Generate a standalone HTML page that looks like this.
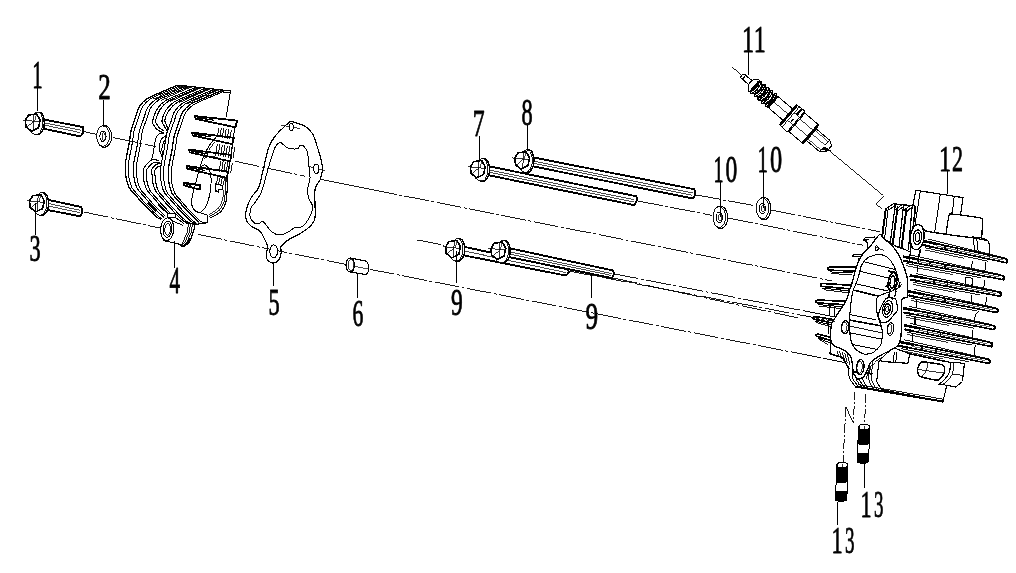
<!DOCTYPE html>
<html><head><meta charset="utf-8"><title>diagram</title>
<style>html,body{margin:0;padding:0;background:#fff;font-family:"Liberation Serif",serif}svg{display:block}</style></head><body>
<svg width="1016" height="573" viewBox="0 0 1016 573" style="filter:grayscale(1)" shape-rendering="crispEdges">
<rect width="1016" height="573" fill="#fff"/>
<line x1="83.00" y1="131.30" x2="96.00" y2="134.30" stroke="#000" stroke-width="0.9" />
<line x1="235.00" y1="161.25" x2="305.00" y2="176.25" stroke="#000" stroke-width="0.9" stroke-dasharray="25 2.5 3 2.5"/>
<line x1="320.25" y1="179.25" x2="372.00" y2="189.55" stroke="#000" stroke-width="0.9" />
<line x1="372.00" y1="189.55" x2="832.00" y2="281.00" stroke="#000" stroke-width="0.9" stroke-dasharray="25 2.5 3 2.5"/>
<line x1="83.75" y1="212.00" x2="160.00" y2="228.00" stroke="#000" stroke-width="0.9" stroke-dasharray="25 2.5 3 2.5"/>
<line x1="197.50" y1="234.50" x2="346.00" y2="264.50" stroke="#000" stroke-width="0.9" stroke-dasharray="25 2.5 3 2.5"/>
<line x1="369.75" y1="269.30" x2="845.00" y2="362.50" stroke="#000" stroke-width="0.9" stroke-dasharray="25 2.5 3 2.5"/>
<line x1="416.50" y1="240.00" x2="444.00" y2="245.50" stroke="#000" stroke-width="0.9" stroke-dasharray="25 2.5 3 2.5"/>
<line x1="613.75" y1="273.75" x2="836.50" y2="317.20" stroke="#000" stroke-width="0.9" stroke-dasharray="25 2.5 3 2.5"/>
<line x1="570.00" y1="271.25" x2="835.00" y2="321.60" stroke="#000" stroke-width="0.9" stroke-dasharray="25 2.5 3 2.5"/>
<line x1="612.50" y1="278.00" x2="800.00" y2="318.30" stroke="#000" stroke-width="0.9" stroke-dasharray="25 2.5 3 2.5"/>
<line x1="695.50" y1="195.00" x2="754.00" y2="205.50" stroke="#000" stroke-width="0.9" stroke-dasharray="25 2.5 3 2.5"/>
<line x1="770.75" y1="210.00" x2="879.50" y2="231.75" stroke="#000" stroke-width="0.9" stroke-dasharray="25 2.5 3 2.5"/>
<line x1="638.00" y1="201.00" x2="712.00" y2="215.30" stroke="#000" stroke-width="0.9" stroke-dasharray="25 2.5 3 2.5"/>
<line x1="728.00" y1="218.00" x2="864.50" y2="245.50" stroke="#000" stroke-width="0.9" stroke-dasharray="25 2.5 3 2.5"/>
<line x1="307.50" y1="166.25" x2="325.00" y2="171.25" stroke="#000" stroke-width="0.8" />
<line x1="281.00" y1="125.00" x2="300.00" y2="128.50" stroke="#000" stroke-width="0.8" />
<line x1="731.90" y1="66.90" x2="742.00" y2="75.50" stroke="#000" stroke-width="0.9" />
<line x1="830.40" y1="151.60" x2="883.25" y2="195.50" stroke="#000" stroke-width="0.9" />
<path d="M883.25,195.50 L875.75,203.50 L882.00,209.25" stroke="#000" stroke-width="0.9" fill="none" />
<line x1="865.60" y1="394.00" x2="864.70" y2="424.50" stroke="#000" stroke-width="0.9" stroke-dasharray="9 2 2 2"/>
<line x1="854.80" y1="391.50" x2="853.40" y2="423.20" stroke="#000" stroke-width="0.9" stroke-dasharray="9 2 2 2"/>
<line x1="853.40" y1="423.20" x2="845.90" y2="406.90" stroke="#000" stroke-width="0.9" />
<line x1="845.90" y1="406.90" x2="843.00" y2="462.80" stroke="#000" stroke-width="0.9" stroke-dasharray="10 2 2 2"/>
<path d="M291.25,121.25 C292.50,121.04 292.71,121.67 295.00,122.50 C297.29,123.33 302.08,124.38 305.00,126.25 C307.92,128.12 310.42,130.21 312.50,133.75 C314.58,137.29 316.04,143.12 317.50,147.50 C318.96,151.88 320.42,156.25 321.25,160.00 C322.08,163.75 322.71,166.67 322.50,170.00 C322.29,173.33 321.25,176.67 320.00,180.00 C318.75,183.33 315.83,183.75 315.00,190.00 C314.17,196.25 315.83,211.46 315.00,217.50 C314.17,223.54 312.50,223.54 310.00,226.25 C307.50,228.96 303.33,231.67 300.00,233.75 C296.67,235.83 293.12,236.67 290.00,238.75 C286.88,240.83 282.71,243.96 281.25,246.25 C279.79,248.54 281.67,250.21 281.25,252.50 C280.83,254.79 280.00,258.25 278.75,260.00 C277.50,261.75 275.42,262.79 273.75,263.00 C272.08,263.21 270.00,262.38 268.75,261.25 C267.50,260.12 266.46,258.75 266.25,256.25 C266.04,253.75 267.71,248.96 267.50,246.25 C267.29,243.54 266.25,242.50 265.00,240.00 C263.75,237.50 262.29,233.54 260.00,231.25 C257.71,228.96 253.54,228.12 251.25,226.25 C248.96,224.38 247.08,222.71 246.25,220.00 C245.42,217.29 245.42,213.75 246.25,210.00 C247.08,206.25 249.17,201.25 251.25,197.50 C253.33,193.75 256.88,191.67 258.75,187.50 C260.62,183.33 260.83,179.17 262.50,172.50 C264.17,165.83 266.67,153.54 268.75,147.50 C270.83,141.46 271.88,140.21 275.00,136.25 C278.12,132.29 284.79,126.25 287.50,123.75 C290.21,121.25 290.00,121.46 291.25,121.25Z" stroke="#000" stroke-width="1.2" fill="none" />
<path d="M280.00,142.50 C281.46,142.08 282.50,144.08 283.75,145.00 C285.00,145.92 285.21,147.38 287.50,148.00 C289.79,148.62 295.42,149.17 297.50,148.75 C299.58,148.33 298.96,145.92 300.00,145.50 C301.04,145.08 302.50,145.08 303.75,146.25 C305.00,147.42 306.67,149.38 307.50,152.50 C308.33,155.62 308.33,160.75 308.75,165.00 C309.17,169.25 310.21,173.83 310.00,178.00 C309.79,182.17 307.71,186.67 307.50,190.00 C307.29,193.33 307.92,195.33 308.75,198.00 C309.58,200.67 312.08,203.38 312.50,206.00 C312.92,208.62 312.29,211.00 311.25,213.75 C310.21,216.50 307.92,220.29 306.25,222.50 C304.58,224.71 303.12,226.17 301.25,227.00 C299.38,227.83 297.29,226.58 295.00,227.50 C292.71,228.42 290.21,231.25 287.50,232.50 C284.79,233.75 281.46,235.21 278.75,235.00 C276.04,234.79 273.33,232.92 271.25,231.25 C269.17,229.58 267.71,226.67 266.25,225.00 C264.79,223.33 263.75,221.46 262.50,221.25 C261.25,221.04 260.21,223.54 258.75,223.75 C257.29,223.96 255.21,223.75 253.75,222.50 C252.29,221.25 250.42,218.75 250.00,216.25 C249.58,213.75 250.42,209.79 251.25,207.50 C252.08,205.21 253.33,205.00 255.00,202.50 C256.67,200.00 259.58,196.25 261.25,192.50 C262.92,188.75 263.54,185.00 265.00,180.00 C266.46,175.00 268.33,167.92 270.00,162.50 C271.67,157.08 273.33,150.83 275.00,147.50 C276.67,144.17 278.54,142.92 280.00,142.50Z" stroke="#000" stroke-width="1.0" fill="none" />
<ellipse cx="291.25" cy="127.00" rx="2.00" ry="3.60" stroke="#000" stroke-width="1.0" fill="#fff"  />
<ellipse cx="316.25" cy="168.75" rx="2.60" ry="4.60" stroke="#000" stroke-width="1.0" fill="#fff"  />
<ellipse cx="273.75" cy="251.25" rx="3.90" ry="6.40" stroke="#000" stroke-width="1.0" fill="#fff"  />
<path d="M177.80,85.10 L165.00,90.50 L147.70,98.30 L139.50,106.40 L135.80,116.50 L131.20,130.00 L129.30,142.60 L125.60,162.00 L125.40,171.00 L126.30,179.30 L129.20,187.70 L134.20,193.60 L138.00,198.00 L143.10,203.80 L155.70,216.40 L161.30,219.50 L165.00,243.00 L183.00,247.00 L194.00,236.00 L196.00,224.00 L209.00,222.00 L222.00,212.00 L228.00,198.00 L236.00,128.00 L237.00,120.00 L230.50,91.00Z" fill="#fff" stroke="none"/>
<clipPath id="c4"><path d="M100,60 L260,60 L260,222 L199.7,222 L194.6,224.8 L184.6,223.2 L176,217.7 L167.6,214 L161,220.5 L100,220.5 Z"/></clipPath><g clip-path="url(#c4)">
<path d="M177.80,85.10 C175.67,86.00 170.02,88.30 165.00,90.50 C159.98,92.70 151.95,95.65 147.70,98.30 C143.45,100.95 141.48,103.37 139.50,106.40 C137.52,109.43 137.18,112.57 135.80,116.50 C134.42,120.43 132.28,125.65 131.20,130.00 C130.12,134.35 130.23,137.27 129.30,142.60 C128.37,147.93 126.25,157.27 125.60,162.00 C124.95,166.73 125.28,168.12 125.40,171.00 C125.52,173.88 125.67,176.52 126.30,179.30 C126.93,182.08 127.88,185.32 129.20,187.70 C130.52,190.08 132.73,191.88 134.20,193.60 C135.67,195.32 136.52,196.30 138.00,198.00 C139.48,199.70 140.15,200.73 143.10,203.80 C146.05,206.87 152.67,213.78 155.70,216.40 C158.73,219.02 160.37,218.98 161.30,219.50" stroke="#000" stroke-width="1.3" fill="none" />
<path d="M180.80,85.50 C178.67,86.40 173.02,88.70 168.00,90.90 C162.98,93.10 154.95,96.05 150.70,98.70 C146.45,101.35 144.48,103.77 142.50,106.80 C140.52,109.83 140.18,112.97 138.80,116.90 C137.42,120.83 135.28,126.05 134.20,130.40 C133.12,134.75 133.23,137.67 132.30,143.00 C131.37,148.33 129.25,157.67 128.60,162.40 C127.95,167.13 128.28,168.52 128.40,171.40 C128.52,174.28 128.67,176.92 129.30,179.70 C129.93,182.48 130.88,185.72 132.20,188.10 C133.52,190.48 135.73,192.28 137.20,194.00 C138.67,195.72 139.52,196.70 141.00,198.40 C142.48,200.10 143.15,201.13 146.10,204.20 C149.05,207.27 155.67,214.18 158.70,216.80 C161.73,219.42 163.37,219.38 164.30,219.90" stroke="#000" stroke-width="1.0" fill="none" />
<path d="M186.00,86.20 C183.87,87.10 178.22,89.40 173.20,91.60 C168.18,93.80 160.15,96.75 155.90,99.40 C151.65,102.05 149.68,104.47 147.70,107.50 C145.72,110.53 145.38,113.67 144.00,117.60 C142.62,121.53 140.48,126.75 139.40,131.10 C138.32,135.45 138.43,138.37 137.50,143.70 C136.57,149.03 134.45,158.37 133.80,163.10 C133.15,167.83 133.48,169.22 133.60,172.10 C133.72,174.98 133.87,177.62 134.50,180.40 C135.13,183.18 136.08,186.42 137.40,188.80 C138.72,191.18 140.93,192.98 142.40,194.70 C143.87,196.42 144.72,197.40 146.20,199.10 C147.68,200.80 148.35,201.83 151.30,204.90 C154.25,207.97 160.87,214.88 163.90,217.50 C166.93,220.12 168.57,220.08 169.50,220.60" stroke="#000" stroke-width="1.1" fill="none" />
<path d="M189.00,86.60 C186.87,87.50 181.22,89.80 176.20,92.00 C171.18,94.20 163.15,97.15 158.90,99.80 C154.65,102.45 152.68,104.87 150.70,107.90 C148.72,110.93 148.38,114.07 147.00,118.00 C145.62,121.93 143.48,127.15 142.40,131.50 C141.32,135.85 141.43,138.77 140.50,144.10 C139.57,149.43 137.45,158.77 136.80,163.50 C136.15,168.23 136.48,169.62 136.60,172.50 C136.72,175.38 136.87,178.02 137.50,180.80 C138.13,183.58 139.08,186.82 140.40,189.20 C141.72,191.58 143.93,193.38 145.40,195.10 C146.87,196.82 147.72,197.80 149.20,199.50 C150.68,201.20 151.35,202.23 154.30,205.30 C157.25,208.37 163.87,215.28 166.90,217.90 C169.93,220.52 171.57,220.48 172.50,221.00" stroke="#000" stroke-width="1.0" fill="none" />
<path d="M195.60,87.50 C193.89,88.22 186.81,91.14 182.80,92.90 C178.79,94.66 168.90,98.58 165.50,100.70 C162.10,102.82 159.02,106.00 157.30,108.80 C155.58,111.60 152.67,118.98 152.60,121.70 C152.53,124.42 155.35,127.69 156.80,129.20 C158.25,130.71 162.61,132.49 163.50,133.00" stroke="#000" stroke-width="1.1" fill="none" />
<path d="M198.60,87.90 C196.89,88.62 189.81,91.54 185.80,93.30 C181.79,95.06 171.90,98.98 168.50,101.10 C165.10,103.22 162.02,106.56 160.30,109.20 C158.58,111.84 155.73,118.45 155.60,120.90 C155.47,123.35 158.13,126.21 159.30,127.60 C160.47,128.99 163.72,130.81 164.40,131.30" stroke="#000" stroke-width="1.1" fill="none" />
<path d="M159.40,160.50 C158.33,160.43 153.47,159.00 151.40,160.00 C149.33,161.00 144.99,166.21 143.90,168.00 C142.81,169.79 143.17,171.57 143.20,173.40 C143.23,175.23 143.59,179.47 144.10,181.70 C144.61,183.93 145.95,188.19 147.00,190.10 C148.05,192.01 150.83,194.63 152.00,196.00 C153.17,197.37 154.61,199.04 155.80,200.40 C156.99,201.76 158.54,203.75 160.90,206.20 C163.26,208.65 171.07,216.71 173.50,218.80 C175.93,220.89 178.35,221.49 179.10,221.90" stroke="#000" stroke-width="1.1" fill="none" />
<path d="M160.20,162.60 C159.31,162.60 155.31,161.65 153.50,162.60 C151.69,163.55 147.57,168.21 146.60,169.70 C145.63,171.19 146.13,172.15 146.20,173.80 C146.27,175.45 146.59,179.87 147.10,182.10 C147.61,184.33 148.95,188.59 150.00,190.50 C151.05,192.41 153.83,195.03 155.00,196.40 C156.17,197.77 157.61,199.44 158.80,200.80 C159.99,202.16 161.54,204.15 163.90,206.60 C166.26,209.05 174.07,217.11 176.50,219.20 C178.93,221.29 181.35,221.89 182.10,222.30" stroke="#000" stroke-width="1.1" fill="none" />
<path d="M163.50,133.00 C162.83,133.17 159.55,133.46 158.50,134.30 C157.45,135.14 156.16,137.74 155.60,139.30 C155.04,140.86 154.65,144.04 154.30,146.00 C153.95,147.96 153.36,152.13 153.00,154.00 C152.64,155.87 151.79,159.20 151.60,160.00" stroke="#000" stroke-width="1.0" fill="none" />
<path d="M166.00,135.10 C165.17,135.93 162.12,137.87 161.00,140.10 C159.88,142.33 159.15,145.77 159.30,148.50 C159.45,151.23 161.47,155.17 161.90,156.50" stroke="#000" stroke-width="1.1" fill="none" />
<path d="M166.90,136.80 C166.33,137.77 164.33,140.65 163.50,142.60 C162.67,144.55 162.03,146.43 161.90,148.50 C161.77,150.57 162.57,153.92 162.70,155.00" stroke="#000" stroke-width="1.0" fill="none" />
<path d="M204.40,88.70 C202.69,89.42 195.61,92.34 191.60,94.10 C187.59,95.86 177.70,99.78 174.30,101.90 C170.90,104.02 167.75,107.47 166.10,110.00 C164.45,112.53 162.02,118.55 161.90,120.90 C161.78,123.25 164.53,126.27 165.20,127.60 C165.87,128.93 166.67,130.46 166.90,130.90" stroke="#000" stroke-width="1.1" fill="none" />
<path d="M207.40,89.10 C205.69,89.82 198.61,92.74 194.60,94.50 C190.59,96.26 180.70,100.18 177.30,102.30 C173.90,104.42 170.77,108.04 169.10,110.40 C167.43,112.76 165.09,117.93 164.80,120.00 C164.51,122.07 166.50,124.63 166.90,125.90 C167.30,127.17 167.68,129.02 167.80,129.50" stroke="#000" stroke-width="1.1" fill="none" />
<path d="M161.00,163.80 C160.45,163.85 158.01,163.64 156.90,164.20 C155.79,164.76 153.41,167.09 152.70,168.00 C151.99,168.91 151.69,170.12 151.60,171.00 C151.51,171.88 151.83,173.01 152.00,174.60 C152.17,176.19 152.39,180.67 152.90,182.90 C153.41,185.13 154.75,189.39 155.80,191.30 C156.85,193.21 159.63,195.83 160.80,197.20 C161.97,198.57 163.41,200.24 164.60,201.60 C165.79,202.96 167.34,204.95 169.70,207.40 C172.06,209.85 179.87,217.91 182.30,220.00 C184.73,222.09 187.15,222.69 187.90,223.10" stroke="#000" stroke-width="1.1" fill="none" />
<path d="M161.00,165.90 C160.56,166.02 158.47,166.29 157.70,166.80 C156.93,167.31 155.67,169.01 155.20,169.70 C154.73,170.39 154.23,171.29 154.20,172.00 C154.17,172.71 154.77,173.49 155.00,175.00 C155.23,176.51 155.39,181.07 155.90,183.30 C156.41,185.53 157.75,189.79 158.80,191.70 C159.85,193.61 162.63,196.23 163.80,197.60 C164.97,198.97 166.41,200.64 167.60,202.00 C168.79,203.36 170.34,205.35 172.70,207.80 C175.06,210.25 182.87,218.31 185.30,220.40 C187.73,222.49 190.15,223.09 190.90,223.50" stroke="#000" stroke-width="1.1" fill="none" />
<path d="M213.00,89.90 C210.87,90.80 205.22,93.10 200.20,95.30 C195.18,97.50 187.15,100.45 182.90,103.10 C178.65,105.75 176.68,108.17 174.70,111.20 C172.72,114.23 172.38,117.37 171.00,121.30 C169.62,125.23 167.48,130.45 166.40,134.80 C165.32,139.15 165.43,142.07 164.50,147.40 C163.57,152.73 161.45,162.07 160.80,166.80 C160.15,171.53 160.48,172.92 160.60,175.80 C160.72,178.68 160.87,181.32 161.50,184.10 C162.13,186.88 163.08,190.12 164.40,192.50 C165.72,194.88 167.93,196.68 169.40,198.40 C170.87,200.12 171.72,201.10 173.20,202.80 C174.68,204.50 175.35,205.53 178.30,208.60 C181.25,211.67 187.87,218.58 190.90,221.20 C193.93,223.82 195.57,223.78 196.50,224.30" stroke="#000" stroke-width="1.1" fill="none" />
<path d="M216.00,90.30 C213.87,91.20 208.22,93.50 203.20,95.70 C198.18,97.90 190.15,100.85 185.90,103.50 C181.65,106.15 179.68,108.57 177.70,111.60 C175.72,114.63 175.38,117.77 174.00,121.70 C172.62,125.63 170.48,130.85 169.40,135.20 C168.32,139.55 168.43,142.47 167.50,147.80 C166.57,153.13 164.45,162.47 163.80,167.20 C163.15,171.93 163.48,173.32 163.60,176.20 C163.72,179.08 163.87,181.72 164.50,184.50 C165.13,187.28 166.08,190.52 167.40,192.90 C168.72,195.28 170.93,197.08 172.40,198.80 C173.87,200.52 174.72,201.50 176.20,203.20 C177.68,204.90 178.35,205.93 181.30,209.00 C184.25,212.07 190.87,218.98 193.90,221.60 C196.93,224.22 198.57,224.18 199.50,224.70" stroke="#000" stroke-width="1.0" fill="none" />
<path d="M220.80,91.00 C218.67,91.90 213.02,94.20 208.00,96.40 C202.98,98.60 194.95,101.55 190.70,104.20 C186.45,106.85 184.48,109.27 182.50,112.30 C180.52,115.33 180.18,118.47 178.80,122.40 C177.42,126.33 175.28,131.55 174.20,135.90 C173.12,140.25 173.23,143.17 172.30,148.50 C171.37,153.83 169.25,163.17 168.60,167.90 C167.95,172.63 168.28,174.02 168.40,176.90 C168.52,179.78 168.67,182.42 169.30,185.20 C169.93,187.98 170.88,191.22 172.20,193.60 C173.52,195.98 175.73,197.78 177.20,199.50 C178.67,201.22 179.52,202.20 181.00,203.90 C182.48,205.60 183.15,206.63 186.10,209.70 C189.05,212.77 195.67,219.68 198.70,222.30 C201.73,224.92 203.37,224.88 204.30,225.40" stroke="#000" stroke-width="1.3" fill="none" />
<path d="M223.80,91.40 C221.67,92.30 216.02,94.60 211.00,96.80 C205.98,99.00 197.95,101.95 193.70,104.60 C189.45,107.25 187.48,109.67 185.50,112.70 C183.52,115.73 183.18,118.87 181.80,122.80 C180.42,126.73 178.28,131.95 177.20,136.30 C176.12,140.65 176.23,143.57 175.30,148.90 C174.37,154.23 172.25,163.57 171.60,168.30 C170.95,173.03 171.28,174.42 171.40,177.30 C171.52,180.18 171.67,182.82 172.30,185.60 C172.93,188.38 173.88,191.62 175.20,194.00 C176.52,196.38 178.73,198.18 180.20,199.90 C181.67,201.62 182.52,202.60 184.00,204.30 C185.48,206.00 186.15,207.03 189.10,210.10 C192.05,213.17 198.67,220.08 201.70,222.70 C204.73,225.32 206.37,225.28 207.30,225.80" stroke="#000" stroke-width="1.0" fill="none" />
</g>
<path d="M183.40,85.87 C181.27,86.77 175.62,89.07 170.60,91.27 C165.58,93.47 156.18,97.77 153.30,99.07" stroke="#000" stroke-width="0.9" fill="none" />
<path d="M191.40,86.96 C189.27,87.86 183.62,90.16 178.60,92.36 C173.58,94.56 164.18,98.86 161.30,100.16" stroke="#000" stroke-width="0.9" fill="none" />
<path d="M200.40,88.20 C198.27,89.10 192.62,91.40 187.60,93.60 C182.58,95.80 173.18,100.10 170.30,101.40" stroke="#000" stroke-width="0.9" fill="none" />
<path d="M209.20,89.40 C207.07,90.30 201.42,92.60 196.40,94.80 C191.38,97.00 181.98,101.30 179.10,102.60" stroke="#000" stroke-width="0.9" fill="none" />
<path d="M217.40,90.53 C215.27,91.43 209.62,93.73 204.60,95.93 C199.58,98.13 190.18,102.43 187.30,103.73" stroke="#000" stroke-width="0.9" fill="none" />
<line x1="177.80" y1="85.10" x2="230.30" y2="90.90" stroke="#000" stroke-width="1.2" />
<line x1="180.00" y1="86.60" x2="224.00" y2="91.60" stroke="#000" stroke-width="0.8" />
<path d="M224.00,90.20 L230.40,90.90 L230.20,93.00 L223.50,92.40" stroke="#000" stroke-width="1.0" fill="none" />
<line x1="230.30" y1="92.50" x2="226.00" y2="117.50" stroke="#000" stroke-width="1.0" />
<path d="M195.1,116.1 L237.0,120.6 L235.6,127.3 L195.6,118.9 Z" stroke="#000" stroke-width="1.8" fill="#fff" stroke-linejoin="round"/>
<line x1="197.10" y1="117.70" x2="213.95" y2="120.18" stroke="#000" stroke-width="1.2" />
<path d="M192.1,132.6 L233.8,137.8 L232.4,144.2 L192.6,135.4 Z" stroke="#000" stroke-width="1.8" fill="#fff" stroke-linejoin="round"/>
<line x1="194.10" y1="134.20" x2="210.87" y2="136.93" stroke="#000" stroke-width="1.2" />
<path d="M189.2,149.6 L231.3,155.0 L230.2,161.4 L189.7,152.4 Z" stroke="#000" stroke-width="1.8" fill="#fff" stroke-linejoin="round"/>
<line x1="191.20" y1="151.20" x2="208.15" y2="154.02" stroke="#000" stroke-width="1.2" />
<path d="M186.6,166.0 L228.0,171.6 L226.8,177.8 L187.1,168.8 Z" stroke="#000" stroke-width="1.8" fill="#fff" stroke-linejoin="round"/>
<line x1="188.60" y1="167.60" x2="205.23" y2="170.47" stroke="#000" stroke-width="1.2" />
<path d="M183.6,182.6 L200.5,185.4 L199.6,189.6 L184.1,185.4 Z" stroke="#000" stroke-width="1.8" fill="#fff" stroke-linejoin="round"/>
<line x1="185.60" y1="184.20" x2="191.20" y2="185.35" stroke="#000" stroke-width="1.2" />
<line x1="218.80" y1="127.50" x2="217.20" y2="137.00" stroke="#000" stroke-width="0.9" />
<line x1="221.30" y1="127.90" x2="219.70" y2="137.40" stroke="#000" stroke-width="0.9" />
<line x1="223.80" y1="128.30" x2="222.20" y2="137.80" stroke="#000" stroke-width="0.9" />
<line x1="226.30" y1="128.70" x2="224.70" y2="138.20" stroke="#000" stroke-width="0.9" />
<line x1="228.80" y1="129.10" x2="227.20" y2="138.60" stroke="#000" stroke-width="0.9" />
<line x1="231.30" y1="129.50" x2="229.70" y2="139.00" stroke="#000" stroke-width="0.9" />
<line x1="217.30" y1="144.00" x2="215.70" y2="155.50" stroke="#000" stroke-width="0.9" />
<line x1="219.80" y1="144.40" x2="218.20" y2="155.90" stroke="#000" stroke-width="0.9" />
<line x1="222.30" y1="144.80" x2="220.70" y2="156.30" stroke="#000" stroke-width="0.9" />
<line x1="224.80" y1="145.20" x2="223.20" y2="156.70" stroke="#000" stroke-width="0.9" />
<line x1="227.30" y1="145.60" x2="225.70" y2="157.10" stroke="#000" stroke-width="0.9" />
<line x1="229.80" y1="146.00" x2="228.20" y2="157.50" stroke="#000" stroke-width="0.9" />
<line x1="232.30" y1="146.40" x2="230.70" y2="157.90" stroke="#000" stroke-width="0.9" />
<line x1="234.80" y1="146.80" x2="233.20" y2="158.30" stroke="#000" stroke-width="0.9" />
<line x1="220.80" y1="161.00" x2="219.20" y2="171.50" stroke="#000" stroke-width="0.9" />
<line x1="223.10" y1="161.37" x2="221.50" y2="171.87" stroke="#000" stroke-width="0.9" />
<line x1="225.40" y1="161.74" x2="223.80" y2="172.24" stroke="#000" stroke-width="0.9" />
<line x1="227.70" y1="162.10" x2="226.10" y2="172.60" stroke="#000" stroke-width="0.9" />
<line x1="230.00" y1="162.47" x2="228.40" y2="172.97" stroke="#000" stroke-width="0.9" />
<line x1="232.30" y1="162.84" x2="230.70" y2="173.34" stroke="#000" stroke-width="0.9" />
<line x1="217.80" y1="177.00" x2="216.20" y2="184.50" stroke="#000" stroke-width="0.9" />
<line x1="220.05" y1="177.36" x2="218.45" y2="184.86" stroke="#000" stroke-width="0.9" />
<line x1="222.30" y1="177.72" x2="220.70" y2="185.22" stroke="#000" stroke-width="0.9" />
<line x1="224.55" y1="178.08" x2="222.95" y2="185.58" stroke="#000" stroke-width="0.9" />
<line x1="226.80" y1="178.44" x2="225.20" y2="185.94" stroke="#000" stroke-width="0.9" />
<line x1="234.50" y1="127.00" x2="233.60" y2="137.50" stroke="#000" stroke-width="1.0" />
<line x1="232.30" y1="144.00" x2="231.20" y2="155.00" stroke="#000" stroke-width="1.0" />
<line x1="230.00" y1="161.50" x2="228.00" y2="171.50" stroke="#000" stroke-width="1.0" />
<path d="M227.00,178.00 C227.05,179.17 227.47,181.12 227.30,185.00 C227.13,188.88 227.05,196.90 226.00,201.30 C224.95,205.70 223.72,208.57 221.00,211.40 C218.28,214.23 211.58,217.15 209.70,218.30" stroke="#000" stroke-width="1.1" fill="none" />
<path d="M225.20,178.00 C225.25,179.33 225.67,182.25 225.50,186.00 C225.33,189.75 225.20,196.50 224.20,200.50 C223.20,204.50 222.03,207.32 219.50,210.00 C216.97,212.68 210.75,215.50 209.00,216.60" stroke="#000" stroke-width="0.9" fill="none" />
<path d="M223.40,190.00 C223.25,191.67 223.40,196.92 222.50,200.00 C221.60,203.08 220.25,206.03 218.00,208.50 C215.75,210.97 210.50,213.75 209.00,214.80" stroke="#000" stroke-width="0.8" fill="none" />
<path d="M215.50,184.00 L222.50,185.50 L222.00,189.50 L219.00,189.50 L218.50,192.00 L216.00,191.50Z" stroke="#000" stroke-width="1.2" fill="#fff" />
<path d="M216.00,137.50 C214.83,138.92 211.17,142.58 209.00,146.00 C206.83,149.42 204.75,153.67 203.00,158.00 C201.25,162.33 199.75,167.67 198.50,172.00 C197.25,176.33 196.35,180.78 195.50,184.00 C194.65,187.22 194.07,188.00 193.40,191.30 C192.73,194.60 191.08,200.45 191.50,203.80 C191.92,207.15 194.33,210.03 195.90,211.40 C197.47,212.77 199.02,213.27 200.90,212.00 C202.78,210.73 205.52,208.30 207.20,203.80 C208.88,199.30 210.53,190.30 211.00,185.00 C211.47,179.70 211.00,175.33 210.00,172.00 C209.00,168.67 206.83,165.67 205.00,165.00 C203.17,164.33 200.00,167.50 199.00,168.00" stroke="#000" stroke-width="1.0" fill="none" />
<path d="M203.50,159.00 C204.25,158.58 206.25,156.87 208.00,156.50 C209.75,156.13 212.17,156.47 214.00,156.80 C215.83,157.13 218.17,158.22 219.00,158.50" stroke="#000" stroke-width="0.9" fill="none" />
<path d="M198.00,172.50 C198.50,171.83 199.75,169.33 201.00,168.50 C202.25,167.67 204.75,167.67 205.50,167.50" stroke="#000" stroke-width="0.9" fill="none" />
<line x1="214.30" y1="141.50" x2="208.00" y2="150.00" stroke="#000" stroke-width="0.9" />
<path d="M196.00,211.50 L207.80,215.20 L207.80,222.60 L199.70,221.80" stroke="#000" stroke-width="1.0" fill="none" />
<path d="M167.60,213.30 L175.80,214.00 L175.80,217.70 L167.60,217.00Z" stroke="#000" stroke-width="1.0" fill="#fff" />
<path d="M175.80,217.70 L184.60,224.00" stroke="#000" stroke-width="1.0" fill="none" />
<path d="M184.60,222.70 L194.60,224.60 L207.80,222.60" stroke="#000" stroke-width="1.1" fill="none" />
<line x1="147.50" y1="203.00" x2="156.00" y2="211.50" stroke="#000" stroke-width="2.0" />
<line x1="158.50" y1="204.50" x2="164.00" y2="210.50" stroke="#000" stroke-width="1.8" />
<path d="M173.50,221.50 L183.50,225.50" stroke="#000" stroke-width="1.0" fill="none" />
<path d="M163.50,240.50 L179.60,244.20" stroke="#000" stroke-width="1.1" fill="none" />
<path d="M184.60,222.70 C185.93,222.95 193.43,223.43 194.60,224.60 C195.77,225.77 194.07,229.25 193.40,231.50 C192.73,233.75 190.95,239.49 189.60,241.50 C188.25,243.51 184.63,246.24 183.30,246.60 C181.97,246.96 180.09,244.52 179.60,244.20" stroke="#000" stroke-width="1.2" fill="#fff" />
<path d="M192.40,223.97 C192.24,224.97 191.87,229.23 191.20,231.50 C190.53,233.77 188.47,239.12 187.40,241.00 C186.33,242.88 183.74,244.99 183.18,245.60" stroke="#000" stroke-width="0.9" fill="none" />
<path d="M190.40,223.67 C190.24,224.71 189.87,229.19 189.20,231.50 C188.53,233.81 186.36,239.12 185.40,241.00 C184.44,242.88 182.44,244.99 181.98,245.60" stroke="#000" stroke-width="0.9" fill="none" />
<path d="M188.40,223.37 C188.24,224.45 187.87,229.15 187.20,231.50 C186.53,233.85 184.26,239.12 183.40,241.00 C182.54,242.88 181.13,244.99 180.78,245.60" stroke="#000" stroke-width="0.9" fill="none" />
<path d="M190.00,238.00 C189.58,238.83 188.57,241.60 187.50,243.00 C186.43,244.40 184.25,245.83 183.60,246.40" stroke="#000" stroke-width="2.2" fill="none" />
<ellipse cx="167.20" cy="229.20" rx="6.60" ry="11.40" stroke="#000" stroke-width="1.2" fill="#fff" transform="rotate(4 167.20 229.20)" />
<ellipse cx="167.40" cy="229.20" rx="4.30" ry="8.20" stroke="#000" stroke-width="1.0" fill="none" transform="rotate(4 167.40 229.20)" />
<ellipse cx="167.60" cy="229.20" rx="2.80" ry="6.00" stroke="#000" stroke-width="0.9" fill="none" transform="rotate(4 167.60 229.20)" />
<line x1="112.50" y1="137.60" x2="156.00" y2="146.60" stroke="#000" stroke-width="0.9" stroke-dasharray="25 2.5 3 2.5"/>
<path d="M882.00,237.80 L885.80,208.90 L893.30,203.80 L912.80,205.70 L915.90,190.30 L963.00,197.60 L961.00,214.00 L982.50,218.30 L981.20,239.00 L989.50,245.00 L989.50,256.00 L1006.50,259.00 L1006.50,263.00 L989.00,362.00 L975.00,363.00 L964.40,363.30 L962.50,381.50 L955.60,387.10 L946.80,385.30 L943.00,401.60 L855.30,386.50 L849.00,377.70 L849.00,368.90 L842.70,357.60 L830.80,353.80 L832.00,322.70 L849.00,297.00 L856.50,266.50 L862.80,253.90 L863.40,240.00 L875.40,237.00Z" fill="#fff" stroke="none"/>
<line x1="973.20" y1="238.80" x2="975.00" y2="252.00" stroke="#000" stroke-width="1.0" />
<line x1="976.80" y1="238.80" x2="978.30" y2="252.50" stroke="#000" stroke-width="1.0" />
<line x1="972.30" y1="260.50" x2="971.50" y2="270.00" stroke="#000" stroke-width="1.0" />
<line x1="986.00" y1="262.50" x2="984.80" y2="272.00" stroke="#000" stroke-width="1.0" />
<line x1="972.80" y1="278.50" x2="972.00" y2="289.00" stroke="#000" stroke-width="1.0" />
<line x1="984.50" y1="280.50" x2="983.50" y2="291.00" stroke="#000" stroke-width="1.0" />
<line x1="971.50" y1="295.00" x2="970.80" y2="305.50" stroke="#000" stroke-width="1.0" />
<line x1="986.50" y1="297.00" x2="985.50" y2="308.00" stroke="#000" stroke-width="1.0" />
<line x1="973.00" y1="330.00" x2="972.00" y2="340.00" stroke="#000" stroke-width="1.0" />
<path d="M966.00,277.50 C966.65,276.80 971.45,277.60 972.00,278.50 C972.55,279.40 972.15,285.80 971.50,286.50 C970.85,287.20 966.05,286.40 965.50,285.50 C964.95,284.60 965.35,278.20 966.00,277.50Z" stroke="#000" stroke-width="1.1" fill="#fff" />
<line x1="920.50" y1="249.00" x2="919.30" y2="257.00" stroke="#000" stroke-width="1.1" />
<line x1="917.50" y1="266.50" x2="918.00" y2="271.50" stroke="#000" stroke-width="1.0" />
<line x1="916.50" y1="300.00" x2="916.50" y2="309.50" stroke="#000" stroke-width="1.0" />
<line x1="915.00" y1="317.00" x2="915.00" y2="326.00" stroke="#000" stroke-width="1.2" />
<line x1="913.00" y1="333.00" x2="912.00" y2="343.00" stroke="#000" stroke-width="1.0" />
<path d="M979.00,311.00 C978.42,311.67 976.22,313.50 975.50,315.00 C974.78,316.50 974.83,319.17 974.70,320.00" stroke="#000" stroke-width="1.0" fill="none" />
<path d="M975.70,345.00 C975.45,345.83 974.38,348.25 974.20,350.00 C974.02,351.75 974.53,354.58 974.60,355.50" stroke="#000" stroke-width="1.0" fill="none" />
<path d="M922.3,238.0 L1006.5,258.4 L1006.5,263.2 L922.3,245.2 Z" fill="#fff" stroke="none"/>
<line x1="928.30" y1="239.10" x2="1004.50" y2="257.90" stroke="#000" stroke-width="0.9" />
<line x1="922.30" y1="240.60" x2="1006.50" y2="258.80" stroke="#000" stroke-width="1.6" />
<line x1="922.30" y1="244.90" x2="1006.50" y2="262.80" stroke="#000" stroke-width="1.6" />
<line x1="936.30" y1="245.93" x2="1002.50" y2="259.94" stroke="#000" stroke-width="0.6" />
<line x1="925.30" y1="247.85" x2="987.98" y2="261.20" stroke="#000" stroke-width="0.9" />
<line x1="925.30" y1="250.05" x2="964.40" y2="258.30" stroke="#000" stroke-width="0.8" />
<path d="M1005.7,258.5 Q1009.1,260.8 1005.7,263.1" stroke="#000" stroke-width="2.4" fill="none" />
<line x1="922.30" y1="240.80" x2="938.30" y2="244.26" stroke="#000" stroke-width="2.6" />
<line x1="923.30" y1="245.00" x2="932.30" y2="247.16" stroke="#000" stroke-width="2.2" />
<line x1="945.03" y1="245.51" x2="944.73" y2="249.51" stroke="#000" stroke-width="1.6" />
<line x1="957.66" y1="248.24" x2="957.36" y2="252.24" stroke="#000" stroke-width="1.6" />
<path d="M902.8,253.7 L1003.3,275.3 L1003.3,280.1 L902.8,260.9 Z" fill="#fff" stroke="none"/>
<line x1="908.80" y1="254.66" x2="1001.30" y2="274.80" stroke="#000" stroke-width="0.9" />
<line x1="902.80" y1="256.30" x2="1003.30" y2="275.70" stroke="#000" stroke-width="1.6" />
<line x1="902.80" y1="260.60" x2="1003.30" y2="279.70" stroke="#000" stroke-width="1.6" />
<line x1="916.80" y1="261.30" x2="999.30" y2="276.93" stroke="#000" stroke-width="0.6" />
<line x1="905.80" y1="263.48" x2="981.19" y2="277.83" stroke="#000" stroke-width="0.9" />
<line x1="905.80" y1="265.68" x2="953.05" y2="274.60" stroke="#000" stroke-width="0.8" />
<path d="M1002.5,275.4 Q1005.9,277.7 1002.5,280.0" stroke="#000" stroke-width="2.4" fill="none" />
<line x1="902.80" y1="256.50" x2="918.80" y2="259.59" stroke="#000" stroke-width="2.6" />
<line x1="903.80" y1="260.70" x2="912.80" y2="262.63" stroke="#000" stroke-width="2.2" />
<line x1="929.93" y1="261.54" x2="929.63" y2="265.54" stroke="#000" stroke-width="1.6" />
<line x1="945.01" y1="264.45" x2="944.71" y2="268.45" stroke="#000" stroke-width="1.6" />
<path d="M909.7,272.5 L1000.2,291.9 L1000.2,296.7 L909.7,279.7 Z" fill="#fff" stroke="none"/>
<line x1="915.70" y1="273.44" x2="998.20" y2="291.40" stroke="#000" stroke-width="0.9" />
<line x1="909.70" y1="275.10" x2="1000.20" y2="292.30" stroke="#000" stroke-width="1.6" />
<line x1="909.70" y1="279.40" x2="1000.20" y2="296.30" stroke="#000" stroke-width="1.6" />
<line x1="923.70" y1="280.06" x2="996.20" y2="293.54" stroke="#000" stroke-width="0.6" />
<line x1="912.70" y1="282.27" x2="980.29" y2="294.92" stroke="#000" stroke-width="0.9" />
<line x1="912.70" y1="284.47" x2="954.95" y2="292.30" stroke="#000" stroke-width="0.8" />
<path d="M999.4,292.0 Q1002.8,294.3 999.4,296.6" stroke="#000" stroke-width="2.4" fill="none" />
<line x1="909.70" y1="275.30" x2="925.70" y2="278.34" stroke="#000" stroke-width="2.6" />
<line x1="910.70" y1="279.50" x2="919.70" y2="281.40" stroke="#000" stroke-width="2.2" />
<line x1="934.13" y1="279.74" x2="933.84" y2="283.74" stroke="#000" stroke-width="1.6" />
<line x1="947.71" y1="282.32" x2="947.41" y2="286.32" stroke="#000" stroke-width="1.6" />
<path d="M907.8,288.4 L997.0,308.2 L997.0,313.0 L907.8,295.6 Z" fill="#fff" stroke="none"/>
<line x1="913.80" y1="289.38" x2="995.00" y2="307.70" stroke="#000" stroke-width="0.9" />
<line x1="907.80" y1="291.00" x2="997.00" y2="308.60" stroke="#000" stroke-width="1.6" />
<line x1="907.80" y1="295.30" x2="997.00" y2="312.60" stroke="#000" stroke-width="1.6" />
<line x1="921.80" y1="296.06" x2="993.00" y2="309.81" stroke="#000" stroke-width="0.6" />
<line x1="910.80" y1="298.19" x2="977.38" y2="311.13" stroke="#000" stroke-width="0.9" />
<line x1="910.80" y1="300.39" x2="952.40" y2="308.40" stroke="#000" stroke-width="0.8" />
<path d="M996.2,308.3 Q999.6,310.6 996.2,312.9" stroke="#000" stroke-width="2.4" fill="none" />
<line x1="907.80" y1="291.20" x2="923.80" y2="294.36" stroke="#000" stroke-width="2.6" />
<line x1="908.80" y1="295.40" x2="917.80" y2="297.37" stroke="#000" stroke-width="2.2" />
<line x1="931.88" y1="295.75" x2="931.58" y2="299.75" stroke="#000" stroke-width="1.6" />
<line x1="945.26" y1="298.39" x2="944.96" y2="302.39" stroke="#000" stroke-width="1.6" />
<path d="M903.4,305.4 L993.9,325.2 L993.9,330.0 L903.4,312.6 Z" fill="#fff" stroke="none"/>
<line x1="909.40" y1="306.37" x2="991.90" y2="324.70" stroke="#000" stroke-width="0.9" />
<line x1="903.40" y1="308.00" x2="993.90" y2="325.60" stroke="#000" stroke-width="1.6" />
<line x1="903.40" y1="312.30" x2="993.90" y2="329.60" stroke="#000" stroke-width="1.6" />
<line x1="917.40" y1="313.02" x2="989.90" y2="326.82" stroke="#000" stroke-width="0.6" />
<line x1="906.40" y1="315.18" x2="973.99" y2="328.13" stroke="#000" stroke-width="0.9" />
<line x1="906.40" y1="317.38" x2="948.65" y2="325.40" stroke="#000" stroke-width="0.8" />
<path d="M993.1,325.3 Q996.5,327.6 993.1,329.9" stroke="#000" stroke-width="2.4" fill="none" />
<line x1="903.40" y1="308.20" x2="919.40" y2="311.31" stroke="#000" stroke-width="2.6" />
<line x1="904.40" y1="312.40" x2="913.40" y2="314.34" stroke="#000" stroke-width="2.2" />
<line x1="927.84" y1="312.75" x2="927.54" y2="316.75" stroke="#000" stroke-width="1.6" />
<line x1="941.41" y1="315.39" x2="941.11" y2="319.39" stroke="#000" stroke-width="1.6" />
<path d="M904.0,322.4 L991.4,342.2 L991.4,347.0 L904.0,329.6 Z" fill="#fff" stroke="none"/>
<line x1="910.00" y1="323.41" x2="989.40" y2="341.70" stroke="#000" stroke-width="0.9" />
<line x1="904.00" y1="325.00" x2="991.40" y2="342.60" stroke="#000" stroke-width="1.6" />
<line x1="904.00" y1="329.30" x2="991.40" y2="346.60" stroke="#000" stroke-width="1.6" />
<line x1="918.00" y1="330.12" x2="987.40" y2="343.79" stroke="#000" stroke-width="0.6" />
<line x1="907.00" y1="332.20" x2="972.17" y2="345.13" stroke="#000" stroke-width="0.9" />
<line x1="907.00" y1="334.40" x2="947.70" y2="342.40" stroke="#000" stroke-width="0.8" />
<path d="M990.6,342.3 Q994.0,344.6 990.6,346.9" stroke="#000" stroke-width="2.4" fill="none" />
<line x1="904.00" y1="325.20" x2="920.00" y2="328.42" stroke="#000" stroke-width="2.6" />
<line x1="905.00" y1="329.40" x2="914.00" y2="331.41" stroke="#000" stroke-width="2.2" />
<line x1="927.60" y1="329.75" x2="927.30" y2="333.75" stroke="#000" stroke-width="1.6" />
<line x1="940.71" y1="332.39" x2="940.41" y2="336.39" stroke="#000" stroke-width="1.6" />
<path d="M897.8,338.7 L988.9,359.0 L988.9,363.8 L897.8,345.9 Z" fill="#fff" stroke="none"/>
<line x1="903.80" y1="339.69" x2="986.90" y2="358.50" stroke="#000" stroke-width="0.9" />
<line x1="897.80" y1="341.30" x2="988.90" y2="359.40" stroke="#000" stroke-width="1.6" />
<line x1="897.80" y1="345.60" x2="988.90" y2="363.40" stroke="#000" stroke-width="1.6" />
<line x1="911.80" y1="346.38" x2="984.90" y2="360.61" stroke="#000" stroke-width="0.6" />
<line x1="900.80" y1="348.50" x2="968.86" y2="361.82" stroke="#000" stroke-width="0.9" />
<line x1="900.80" y1="350.70" x2="943.35" y2="358.95" stroke="#000" stroke-width="0.8" />
<path d="M988.1,359.1 Q991.5,361.4 988.1,363.7" stroke="#000" stroke-width="2.4" fill="none" />
<line x1="897.80" y1="341.50" x2="913.80" y2="344.68" stroke="#000" stroke-width="2.6" />
<line x1="898.80" y1="345.70" x2="907.80" y2="347.69" stroke="#000" stroke-width="2.2" />
<line x1="922.40" y1="346.19" x2="922.10" y2="350.19" stroke="#000" stroke-width="1.6" />
<line x1="936.06" y1="348.90" x2="935.76" y2="352.90" stroke="#000" stroke-width="1.6" />
<path d="M915.90,190.30 L963.00,197.60 L960.60,214.60 L949.80,214.10 L946.70,234.00 L935.40,232.70 L925.30,230.90 L921.60,226.50 L912.00,226.00 L912.80,205.70Z" stroke="#000" stroke-width="1.2" fill="#fff" />
<line x1="920.30" y1="191.00" x2="914.80" y2="226.00" stroke="#000" stroke-width="1.0" />
<line x1="940.40" y1="193.80" x2="934.70" y2="232.30" stroke="#000" stroke-width="1.0" />
<line x1="954.20" y1="196.30" x2="952.30" y2="213.20" stroke="#000" stroke-width="1.0" />
<path d="M949.80,214.10 C951.07,213.44 977.20,217.40 978.50,217.60 C979.80,217.80 982.13,218.82 982.30,219.00 C982.47,219.18 982.84,221.20 982.80,222.00 C982.76,222.80 981.59,238.37 981.20,239.00 C980.81,239.63 974.38,238.00 973.00,237.80 C971.62,237.60 947.63,234.95 946.70,234.00 C945.77,233.05 948.53,214.76 949.80,214.10Z" stroke="#000" stroke-width="1.3" fill="#fff" />
<line x1="949.80" y1="214.10" x2="953.00" y2="212.40" stroke="#000" stroke-width="1.6" />
<path d="M917.00,226.00 C917.77,226.08 920.22,225.68 921.60,226.50 C922.98,227.32 923.00,229.87 925.30,230.90 C927.60,231.93 931.62,232.08 935.40,232.70 C939.18,233.32 941.73,233.75 948.00,234.60 C954.27,235.45 967.47,237.00 973.00,237.80 C978.53,238.60 978.87,238.95 981.20,239.40 C983.53,239.85 986.03,240.32 987.00,240.50" stroke="#000" stroke-width="1.3" fill="none" />
<path d="M971.90,236.90 C972.71,236.99 978.49,237.49 980.00,237.80 C981.51,238.11 986.05,239.28 987.00,240.00 C987.95,240.72 989.25,243.30 989.50,245.00 C989.75,246.70 989.50,255.80 989.50,257.00" stroke="#000" stroke-width="1.1" fill="none" />
<path d="M882.00,237.80 L885.80,208.90 L893.30,203.80 L912.80,205.70 L915.90,206.20 L910.00,252.00 L905.00,249.50 L896.40,246.50 L888.90,241.50Z" stroke="#000" stroke-width="1.2" fill="#fff" />
<line x1="885.80" y1="208.90" x2="882.00" y2="237.80" stroke="#000" stroke-width="2.0" />
<line x1="888.30" y1="207.40" x2="884.50" y2="239.50" stroke="#000" stroke-width="1.0" />
<line x1="895.20" y1="205.50" x2="890.20" y2="243.00" stroke="#000" stroke-width="1.2" />
<line x1="897.70" y1="206.50" x2="892.70" y2="244.00" stroke="#000" stroke-width="1.9" />
<line x1="903.30" y1="207.00" x2="899.00" y2="247.00" stroke="#000" stroke-width="1.2" />
<line x1="906.50" y1="208.00" x2="901.50" y2="248.00" stroke="#000" stroke-width="1.9" />
<line x1="912.10" y1="207.00" x2="908.40" y2="250.00" stroke="#000" stroke-width="1.2" />
<line x1="915.20" y1="207.00" x2="910.40" y2="252.00" stroke="#000" stroke-width="1.3" />
<path d="M885.80,208.90 L893.30,203.80 L896.50,204.60 L889.00,209.80" stroke="#000" stroke-width="1.0" fill="none" />
<path d="M895.20,209.50 L902.00,204.80 L905.00,205.40 L898.20,210.40" stroke="#000" stroke-width="1.0" fill="none" />
<path d="M903.80,210.50 L910.00,205.60 L913.00,206.00 L907.00,211.40" stroke="#000" stroke-width="1.0" fill="none" />
<ellipse cx="917.20" cy="237.20" rx="6.90" ry="12.60" stroke="#000" stroke-width="1.3" fill="#fff" transform="rotate(6 917.20 237.20)" />
<ellipse cx="917.40" cy="237.20" rx="4.20" ry="7.40" stroke="#000" stroke-width="1.1" fill="none" transform="rotate(6 917.40 237.20)" />
<ellipse cx="917.60" cy="237.20" rx="2.30" ry="4.40" stroke="#000" stroke-width="1.0" fill="none" transform="rotate(6 917.60 237.20)" />
<path d="M910.50,249.00 L909.50,262.00 L918.00,263.50 L919.50,249.80" stroke="#000" stroke-width="1.1" fill="none" />
<path d="M879.10,360.70 L876.60,381.50 L881.60,389.60 L943.00,401.60 L946.80,385.30 L955.60,387.10 L962.50,381.50 L964.40,363.30 L948.00,362.00 L909.70,353.80 L893.00,347.50Z" stroke="#000" stroke-width="1.1" fill="#fff" />
<line x1="855.30" y1="386.50" x2="943.00" y2="401.60" stroke="#000" stroke-width="2.0" />
<line x1="858.00" y1="384.50" x2="944.00" y2="399.30" stroke="#000" stroke-width="0.9" />
<path d="M909.70,353.80 L945.50,361.40" stroke="#000" stroke-width="1.6" fill="none" />
<path d="M909.70,353.80 L907.90,363.30 L889.00,362.00 L879.10,360.70" stroke="#000" stroke-width="1.2" fill="none" />
<line x1="894.50" y1="352.00" x2="893.00" y2="362.30" stroke="#000" stroke-width="1.0" />
<line x1="897.00" y1="352.50" x2="895.60" y2="362.50" stroke="#000" stroke-width="1.0" />
<path d="M921.70,362.00 C924.10,361.53 940.89,364.20 943.00,365.20 C945.11,366.20 944.77,371.30 944.30,372.70 C943.83,374.10 940.23,379.85 938.00,380.20 C935.77,380.55 922.33,377.43 920.40,376.50 C918.47,375.57 917.18,371.55 917.30,370.20 C917.42,368.85 919.30,362.47 921.70,362.00Z" stroke="#000" stroke-width="1.5" fill="#fff" />
<line x1="918.00" y1="369.50" x2="943.50" y2="373.00" stroke="#000" stroke-width="0.8" />
<path d="M927.50,363.00 C927.33,364.17 927.42,367.75 926.50,370.00 C925.58,372.25 922.75,375.42 922.00,376.50" stroke="#000" stroke-width="0.8" fill="none" />
<path d="M950.50,362.30 C950.30,364.03 950.38,369.75 949.30,372.70 C948.22,375.65 945.68,378.12 944.00,380.00 C942.32,381.88 940.00,383.33 939.20,384.00" stroke="#000" stroke-width="1.1" fill="none" />
<path d="M953.80,362.50 C953.58,364.33 953.72,370.33 952.50,373.50 C951.28,376.67 948.42,379.58 946.50,381.50 C944.58,383.42 941.92,384.42 941.00,385.00" stroke="#000" stroke-width="0.9" fill="none" />
<line x1="952.00" y1="374.00" x2="963.30" y2="375.50" stroke="#000" stroke-width="0.9" />
<line x1="946.80" y1="385.30" x2="938.00" y2="384.00" stroke="#000" stroke-width="1.0" />
<path d="M849.00,366.00 C849.04,367.56 848.46,374.97 849.30,377.70 C850.14,380.43 854.50,385.33 855.30,386.50" stroke="#000" stroke-width="1.0" fill="none" />
<path d="M852.40,366.18 C852.44,367.80 851.86,375.51 852.70,378.30 C853.54,381.09 857.90,385.93 858.70,387.10" stroke="#000" stroke-width="1.0" fill="none" />
<path d="M855.80,366.36 C855.84,368.03 855.26,376.05 856.10,378.90 C856.94,381.75 861.30,386.53 862.10,387.70" stroke="#000" stroke-width="1.0" fill="none" />
<path d="M859.20,366.54 C859.24,368.27 858.66,376.60 859.50,379.50 C860.34,382.40 864.70,387.13 865.50,388.30" stroke="#000" stroke-width="1.0" fill="none" />
<path d="M862.60,366.72 C862.64,368.50 862.06,377.14 862.90,380.10 C863.74,383.06 868.10,387.73 868.90,388.90" stroke="#000" stroke-width="1.0" fill="none" />
<path d="M870.00,362.50 C869.80,364.57 868.10,374.53 868.50,378.00 C868.90,381.47 872.40,387.10 873.00,388.50" stroke="#000" stroke-width="0.9" fill="none" />
<path d="M873.00,360.00 C872.80,362.53 871.03,375.13 871.50,379.00 C871.97,382.87 875.83,387.67 876.50,389.00" stroke="#000" stroke-width="0.9" fill="none" />
<path d="M863.0,254.2 L853.7,254.8 Q851.2,255.9 853.5,256.9 L861.5,256.9" stroke="#000" stroke-width="1.1" fill="#fff" stroke-linejoin="round"/>
<path d="M856.0,267.3 L829.2,267.1 Q826.7,268.7 829.0,270.2 L854.5,271.0" stroke="#000" stroke-width="1.7" fill="#fff" stroke-linejoin="round"/>
<line x1="829.70" y1="271.91" x2="853.00" y2="273.00" stroke="#000" stroke-width="1.0" />
<line x1="831.20" y1="273.51" x2="851.50" y2="274.80" stroke="#000" stroke-width="0.9" />
<path d="M852.0,285.3 L821.7,283.4 Q819.2,284.9 821.5,286.4 L850.5,288.9" stroke="#000" stroke-width="1.7" fill="#fff" stroke-linejoin="round"/>
<line x1="822.20" y1="288.10" x2="849.00" y2="290.90" stroke="#000" stroke-width="1.0" />
<line x1="823.70" y1="289.70" x2="847.50" y2="292.70" stroke="#000" stroke-width="0.9" />
<path d="M846.5,301.3 L817.3,300.0 Q814.8,301.4 817.1,302.9 L845.0,304.8" stroke="#000" stroke-width="1.7" fill="#fff" stroke-linejoin="round"/>
<line x1="817.80" y1="304.59" x2="843.50" y2="306.80" stroke="#000" stroke-width="1.0" />
<line x1="819.30" y1="306.19" x2="842.00" y2="308.60" stroke="#000" stroke-width="0.9" />
<path d="M837.0,320.2 L814.2,316.4 Q811.7,317.8 814.0,319.2 L835.5,323.6" stroke="#000" stroke-width="1.7" fill="#fff" stroke-linejoin="round"/>
<line x1="814.70" y1="320.88" x2="834.00" y2="325.60" stroke="#000" stroke-width="1.0" />
<line x1="816.20" y1="322.48" x2="832.50" y2="327.40" stroke="#000" stroke-width="0.9" />
<path d="M832.5,337.8 L817.3,334.0 Q814.8,335.1 817.1,336.3 L831.0,340.7" stroke="#000" stroke-width="1.7" fill="#fff" stroke-linejoin="round"/>
<line x1="817.80" y1="337.93" x2="829.50" y2="342.70" stroke="#000" stroke-width="1.0" />
<line x1="819.30" y1="339.53" x2="828.00" y2="344.50" stroke="#000" stroke-width="0.9" />
<line x1="830.00" y1="305.80" x2="829.50" y2="316.50" stroke="#000" stroke-width="1.2" />
<line x1="835.00" y1="306.50" x2="834.50" y2="317.50" stroke="#000" stroke-width="1.0" />
<line x1="828.30" y1="322.80" x2="828.30" y2="333.50" stroke="#000" stroke-width="1.2" />
<line x1="832.00" y1="324.00" x2="832.00" y2="334.50" stroke="#000" stroke-width="1.0" />
<line x1="859.00" y1="258.50" x2="857.50" y2="267.00" stroke="#000" stroke-width="1.0" />
<path d="M880.40,234.40 C879.66,234.30 877.68,236.32 876.60,237.60 C875.52,238.88 871.77,244.66 870.30,246.40 C868.83,248.14 864.27,251.76 862.80,253.90 C861.33,256.04 857.64,263.42 856.50,266.50 C855.36,269.58 852.84,280.29 852.10,282.80 C851.36,285.31 850.20,288.17 849.60,290.00 C849.00,291.83 847.50,297.87 846.50,300.00 C845.50,302.13 841.41,308.11 840.20,310.00 C838.99,311.89 836.07,316.35 835.20,317.70 C834.33,319.05 832.49,321.17 832.00,322.70 C831.51,324.23 830.73,330.12 830.60,332.00 C830.47,333.88 830.45,338.85 830.80,340.30 C831.15,341.75 832.77,344.67 833.90,345.60 C835.03,346.53 840.06,348.36 841.40,349.00 C842.74,349.64 845.42,350.55 846.50,351.60 C847.58,352.65 850.76,356.55 851.50,358.80 C852.24,361.05 852.73,370.55 853.40,372.70 C854.07,374.85 856.67,378.61 857.80,379.00 C858.93,379.39 862.93,377.48 864.00,376.40 C865.07,375.32 867.13,370.37 867.80,368.90 C868.47,367.43 868.96,364.04 870.30,362.60 C871.64,361.16 878.26,356.71 880.40,355.40 C882.54,354.09 888.52,351.38 890.40,350.30 C892.28,349.22 896.86,346.90 898.00,345.30 C899.14,343.70 900.71,340.13 901.10,335.30 C901.49,330.47 901.03,304.09 901.70,300.00 C902.37,295.91 906.79,299.24 907.40,297.00 C908.01,294.76 907.74,282.13 907.40,279.00 C907.06,275.87 905.20,270.38 904.20,267.70 C903.20,265.02 899.47,256.45 898.00,253.90 C896.53,251.35 891.95,245.44 890.40,243.80 C888.85,242.16 884.57,239.50 883.50,238.50 C882.43,237.50 881.14,234.50 880.40,234.40Z" stroke="#000" stroke-width="1.3" fill="#fff" />
<clipPath id="c12"><path d="M879.10,254.10 C876.96,254.10 869.68,256.52 867.80,257.70 C865.92,258.88 862.57,262.93 861.50,265.20 C860.43,267.47 858.74,276.14 857.80,279.00 C856.86,281.86 853.51,288.69 852.70,292.00 C851.89,295.31 850.53,306.46 850.20,310.00 C849.87,313.54 849.53,321.97 849.60,325.20 C849.67,328.43 850.29,337.76 850.90,340.30 C851.51,342.84 853.90,347.54 855.30,349.00 C856.70,350.46 862.13,353.59 864.00,354.00 C865.87,354.41 871.05,353.73 872.80,352.80 C874.55,351.87 879.39,347.17 880.40,345.30 C881.41,343.43 882.17,337.31 882.30,335.30 C882.43,333.29 881.94,328.11 881.60,326.50 C881.26,324.89 879.63,321.96 879.10,320.20 C878.57,318.44 876.77,312.47 876.60,310.00 C876.43,307.53 875.15,299.37 877.50,297.00 C879.85,294.63 896.41,289.85 898.60,287.80 C900.79,285.75 898.47,280.07 898.00,277.80 C897.53,275.53 895.28,268.64 894.20,266.50 C893.12,264.36 889.51,259.02 887.90,257.70 C886.29,256.38 881.24,254.10 879.10,254.10Z"/></clipPath>
<path d="M879.10,254.10 C876.96,254.10 869.68,256.52 867.80,257.70 C865.92,258.88 862.57,262.93 861.50,265.20 C860.43,267.47 858.74,276.14 857.80,279.00 C856.86,281.86 853.51,288.69 852.70,292.00 C851.89,295.31 850.53,306.46 850.20,310.00 C849.87,313.54 849.53,321.97 849.60,325.20 C849.67,328.43 850.29,337.76 850.90,340.30 C851.51,342.84 853.90,347.54 855.30,349.00 C856.70,350.46 862.13,353.59 864.00,354.00 C865.87,354.41 871.05,353.73 872.80,352.80 C874.55,351.87 879.39,347.17 880.40,345.30 C881.41,343.43 882.17,337.31 882.30,335.30 C882.43,333.29 881.94,328.11 881.60,326.50 C881.26,324.89 879.63,321.96 879.10,320.20 C878.57,318.44 876.77,312.47 876.60,310.00 C876.43,307.53 875.15,299.37 877.50,297.00 C879.85,294.63 896.41,289.85 898.60,287.80 C900.79,285.75 898.47,280.07 898.00,277.80 C897.53,275.53 895.28,268.64 894.20,266.50 C893.12,264.36 889.51,259.02 887.90,257.70 C886.29,256.38 881.24,254.10 879.10,254.10Z" stroke="#000" stroke-width="1.1" fill="#fff" />
<g clip-path="url(#c12)">
<line x1="862.00" y1="261.20" x2="896.00" y2="269.80" stroke="#000" stroke-width="1.0" />
<line x1="858.00" y1="270.90" x2="890.00" y2="278.30" stroke="#000" stroke-width="1.0" />
<line x1="853.00" y1="283.20" x2="888.00" y2="291.00" stroke="#000" stroke-width="1.0" />
<line x1="851.00" y1="289.50" x2="884.00" y2="297.50" stroke="#000" stroke-width="1.6" />
<line x1="849.00" y1="314.50" x2="876.00" y2="319.80" stroke="#000" stroke-width="1.0" />
<line x1="849.00" y1="320.00" x2="882.00" y2="326.00" stroke="#000" stroke-width="1.6" />
<line x1="849.00" y1="326.00" x2="883.00" y2="333.00" stroke="#000" stroke-width="0.9" />
<line x1="849.00" y1="332.70" x2="883.00" y2="339.30" stroke="#000" stroke-width="1.0" />
<line x1="849.00" y1="343.80" x2="882.00" y2="350.50" stroke="#000" stroke-width="1.0" />
<ellipse cx="892.50" cy="282.00" rx="4.20" ry="9.50" stroke="#000" stroke-width="1.6" fill="#fff" transform="rotate(8 892.50 282.00)" />
<ellipse cx="892.50" cy="282.00" rx="2.40" ry="6.20" stroke="#000" stroke-width="1.2" fill="none" transform="rotate(8 892.50 282.00)" />
<line x1="888.00" y1="271.00" x2="897.00" y2="273.00" stroke="#000" stroke-width="2.0" />
<line x1="889.00" y1="292.00" x2="897.50" y2="294.00" stroke="#000" stroke-width="1.8" />
</g>
<path d="M881.60,305.70 C882.33,304.22 885.54,298.77 886.70,298.20 C887.86,297.62 894.61,297.81 895.50,298.80 C896.39,299.79 898.02,308.22 897.40,310.10 C896.77,311.98 889.32,320.35 888.00,321.40 C886.68,322.45 882.43,323.15 881.60,322.70 C880.77,322.25 878.00,317.42 878.00,316.00 C878.00,314.58 880.88,307.18 881.60,305.70Z" stroke="#000" stroke-width="1.2" fill="#fff" />
<ellipse cx="887.60" cy="309.00" rx="5.00" ry="8.40" stroke="#000" stroke-width="1.1" fill="none" transform="rotate(12 887.60 309.00)" />
<ellipse cx="887.30" cy="309.00" rx="3.00" ry="5.40" stroke="#000" stroke-width="1.5" fill="none" transform="rotate(12 887.30 309.00)" />
<ellipse cx="887.30" cy="309.00" rx="1.50" ry="3.00" stroke="#000" stroke-width="0.9" fill="none" transform="rotate(12 887.30 309.00)" />
<ellipse cx="890.40" cy="329.00" rx="3.20" ry="6.30" stroke="#000" stroke-width="1.2" fill="#fff" transform="rotate(6 890.40 329.00)" />
<ellipse cx="889.60" cy="329.20" rx="2.10" ry="5.00" stroke="#000" stroke-width="0.8" fill="none" transform="rotate(6 889.60 329.20)" />
<path d="M886.00,286.00 C886.67,286.67 889.50,288.33 890.00,290.00 C890.50,291.67 888.50,294.50 889.00,296.00 C889.50,297.50 892.33,298.50 893.00,299.00" stroke="#000" stroke-width="1.6" fill="none" />
<path d="M893.00,285.00 C893.50,286.00 895.75,289.00 896.00,291.00 C896.25,293.00 894.75,296.00 894.50,297.00" stroke="#000" stroke-width="1.3" fill="none" />
<path d="M897.50,281.50 L901.00,283.50 L899.00,288.00Z" stroke="#000" stroke-width="0.9" fill="none" />
<ellipse cx="845.20" cy="327.10" rx="3.80" ry="6.40" stroke="#000" stroke-width="1.3" fill="#fff" transform="rotate(5 845.20 327.10)" />
<ellipse cx="844.40" cy="327.30" rx="2.60" ry="5.20" stroke="#000" stroke-width="0.8" fill="none" transform="rotate(5 844.40 327.30)" />
<ellipse cx="860.30" cy="367.00" rx="3.80" ry="7.50" stroke="#000" stroke-width="1.2" fill="#fff" transform="rotate(5 860.30 367.00)" />
<ellipse cx="859.60" cy="367.20" rx="2.60" ry="6.00" stroke="#000" stroke-width="0.8" fill="none" transform="rotate(5 859.60 367.20)" />
<ellipse cx="876.60" cy="248.20" rx="1.60" ry="2.30" stroke="#000" stroke-width="1.0" fill="#fff"  />
<line x1="875.50" y1="247.60" x2="883.50" y2="250.80" stroke="#000" stroke-width="0.8" />
<path d="M875.40,237.00 L865.30,237.60 L863.40,240.00 L866.50,242.00 L867.80,242.60 L867.20,247.60" stroke="#000" stroke-width="1.2" fill="none" />
<line x1="863.80" y1="240.60" x2="868.50" y2="239.40" stroke="#000" stroke-width="1.6" />
<path d="M830.80,340.50 L830.20,353.80 L842.70,357.60 L849.00,368.90" stroke="#000" stroke-width="1.5" fill="none" />
<line x1="837.00" y1="350.50" x2="839.50" y2="357.00" stroke="#000" stroke-width="0.9" />
<line x1="839.60" y1="351.40" x2="842.10" y2="358.90" stroke="#000" stroke-width="0.9" />
<line x1="842.20" y1="352.30" x2="844.70" y2="360.80" stroke="#000" stroke-width="0.9" />
<line x1="844.80" y1="353.20" x2="847.30" y2="362.70" stroke="#000" stroke-width="0.9" />
<line x1="847.40" y1="354.10" x2="849.90" y2="364.60" stroke="#000" stroke-width="0.9" />
<path d="M866.00,378.50 C866.58,377.25 868.42,373.42 869.50,371.00 C870.58,368.58 870.42,366.33 872.50,364.00 C874.58,361.67 880.42,358.17 882.00,357.00" stroke="#000" stroke-width="0.9" fill="none" />
<line x1="853.60" y1="372.50" x2="857.50" y2="372.00" stroke="#000" stroke-width="2.0" />
<line x1="866.00" y1="372.50" x2="872.50" y2="374.00" stroke="#000" stroke-width="2.0" />
<line x1="805.00" y1="311.00" x2="836.50" y2="317.20" stroke="#000" stroke-width="0.9" stroke-dasharray="12 2 3 2"/>
<line x1="805.00" y1="315.90" x2="835.00" y2="321.60" stroke="#000" stroke-width="0.9" stroke-dasharray="14 2 3 2"/>
<line x1="805.00" y1="354.60" x2="844.00" y2="362.40" stroke="#000" stroke-width="0.9" stroke-dasharray="16 2.5 3 2.5"/>
<path d="M43.90,119.50 L82.80,127.00 Q85.00,132.20 80.30,136.40 L43.30,128.60" stroke="#000" stroke-width="1.9" fill="#fff" stroke-linejoin="round"/>
<line x1="43.69" y1="122.69" x2="80.92" y2="130.29" stroke="#000" stroke-width="0.7" />
<line x1="43.54" y1="124.96" x2="80.30" y2="132.64" stroke="#000" stroke-width="0.7" />
<path d="M34.80,115.70 C35.70,114.15 35.87,113.57 36.70,113.00 C37.53,112.43 38.87,112.15 39.80,112.30 C40.73,112.45 41.68,113.13 42.30,113.90 C42.92,114.67 43.18,115.92 43.50,116.90 C43.82,117.88 44.08,118.30 44.20,119.80 C44.32,121.30 44.32,124.40 44.20,125.90 C44.08,127.40 43.88,127.83 43.50,128.80 C43.12,129.77 42.52,130.82 41.90,131.70 C41.28,132.58 40.67,133.62 39.80,134.10 C38.93,134.58 37.63,134.70 36.70,134.60 C35.77,134.50 34.93,134.05 34.20,133.50 C33.47,132.95 32.78,133.17 32.30,131.30 C31.82,129.43 30.88,124.90 31.30,122.30 C31.72,119.70 33.90,117.25 34.80,115.70Z" stroke="#000" stroke-width="1.5" fill="#fff" />
<path d="M33.10,115.50 C34.00,113.95 34.17,113.37 35.00,112.80 C35.83,112.23 37.17,111.95 38.10,112.10 C39.03,112.25 39.98,112.93 40.60,113.70 C41.22,114.47 41.48,115.72 41.80,116.70 C42.12,117.68 42.38,118.10 42.50,119.60 C42.62,121.10 42.62,124.20 42.50,125.70 C42.38,127.20 42.18,127.63 41.80,128.60 C41.42,129.57 40.82,130.62 40.20,131.50 C39.58,132.38 38.97,133.42 38.10,133.90 C37.23,134.38 35.93,134.50 35.00,134.40 C34.07,134.30 33.23,133.85 32.50,133.30 C31.77,132.75 31.08,132.97 30.60,131.10 C30.12,129.23 29.18,124.70 29.60,122.10 C30.02,119.50 32.20,117.05 33.10,115.50Z" stroke="#000" stroke-width="0.9" fill="#fff" />
<path d="M25.30,120.40 L28.50,115.00 L36.60,113.90 L40.10,120.10 L38.40,127.90 L31.50,131.20 L26.00,126.90Z" stroke="#000" stroke-width="1.6" fill="#fff" stroke-linejoin="round"/>
<line x1="25.30" y1="120.40" x2="39.80" y2="121.80" stroke="#000" stroke-width="0.8" />
<line x1="33.90" y1="114.30" x2="33.30" y2="130.30" stroke="#000" stroke-width="0.8" />
<line x1="26.80" y1="127.30" x2="33.50" y2="121.50" stroke="#000" stroke-width="0.8" />
<line x1="36.60" y1="113.90" x2="34.80" y2="121.30" stroke="#000" stroke-width="0.7" />
<line x1="22.50" y1="120.10" x2="25.30" y2="120.40" stroke="#000" stroke-width="0.8" />
<path d="M48.75,200.00 L81.25,207.00 Q83.45,212.12 80.00,216.25 L47.50,210.00" stroke="#000" stroke-width="1.9" fill="#fff" stroke-linejoin="round"/>
<line x1="48.31" y1="203.50" x2="79.81" y2="210.24" stroke="#000" stroke-width="0.7" />
<line x1="48.00" y1="206.00" x2="79.50" y2="212.55" stroke="#000" stroke-width="0.7" />
<path d="M39.00,196.40 C39.90,194.85 40.07,194.27 40.90,193.70 C41.73,193.13 43.07,192.85 44.00,193.00 C44.93,193.15 45.88,193.83 46.50,194.60 C47.12,195.37 47.38,196.62 47.70,197.60 C48.02,198.58 48.28,199.00 48.40,200.50 C48.52,202.00 48.52,205.10 48.40,206.60 C48.28,208.10 48.08,208.53 47.70,209.50 C47.32,210.47 46.72,211.52 46.10,212.40 C45.48,213.28 44.87,214.32 44.00,214.80 C43.13,215.28 41.83,215.40 40.90,215.30 C39.97,215.20 39.13,214.75 38.40,214.20 C37.67,213.65 36.98,213.87 36.50,212.00 C36.02,210.13 35.08,205.60 35.50,203.00 C35.92,200.40 38.10,197.95 39.00,196.40Z" stroke="#000" stroke-width="1.5" fill="#fff" />
<path d="M37.30,196.20 C38.20,194.65 38.37,194.07 39.20,193.50 C40.03,192.93 41.37,192.65 42.30,192.80 C43.23,192.95 44.18,193.63 44.80,194.40 C45.42,195.17 45.68,196.42 46.00,197.40 C46.32,198.38 46.58,198.80 46.70,200.30 C46.82,201.80 46.82,204.90 46.70,206.40 C46.58,207.90 46.38,208.33 46.00,209.30 C45.62,210.27 45.02,211.32 44.40,212.20 C43.78,213.08 43.17,214.12 42.30,214.60 C41.43,215.08 40.13,215.20 39.20,215.10 C38.27,215.00 37.43,214.55 36.70,214.00 C35.97,213.45 35.28,213.67 34.80,211.80 C34.32,209.93 33.38,205.40 33.80,202.80 C34.22,200.20 36.40,197.75 37.30,196.20Z" stroke="#000" stroke-width="0.9" fill="#fff" />
<path d="M29.50,201.10 L32.70,195.70 L40.80,194.60 L44.30,200.80 L42.60,208.60 L35.70,211.90 L30.20,207.60Z" stroke="#000" stroke-width="1.6" fill="#fff" stroke-linejoin="round"/>
<line x1="29.50" y1="201.10" x2="44.00" y2="202.50" stroke="#000" stroke-width="0.8" />
<line x1="38.10" y1="195.00" x2="37.50" y2="211.00" stroke="#000" stroke-width="0.8" />
<line x1="31.00" y1="208.00" x2="37.70" y2="202.20" stroke="#000" stroke-width="0.8" />
<line x1="40.80" y1="194.60" x2="39.00" y2="202.00" stroke="#000" stroke-width="0.7" />
<line x1="26.70" y1="200.80" x2="29.50" y2="201.10" stroke="#000" stroke-width="0.8" />
<path d="M463.00,246.50 L568.00,269.50 Q570.20,273.00 565.50,275.50 L462.00,255.00" stroke="#000" stroke-width="1.9" fill="#fff" stroke-linejoin="round"/>
<line x1="462.50" y1="250.75" x2="565.75" y2="272.50" stroke="#000" stroke-width="0.7" />
<path d="M455.10,242.30 C456.00,240.75 456.17,240.17 457.00,239.60 C457.83,239.03 459.17,238.75 460.10,238.90 C461.03,239.05 461.98,239.73 462.60,240.50 C463.22,241.27 463.48,242.52 463.80,243.50 C464.12,244.48 464.38,244.90 464.50,246.40 C464.62,247.90 464.62,251.00 464.50,252.50 C464.38,254.00 464.18,254.43 463.80,255.40 C463.42,256.37 462.82,257.42 462.20,258.30 C461.58,259.18 460.97,260.22 460.10,260.70 C459.23,261.18 457.93,261.30 457.00,261.20 C456.07,261.10 455.23,260.65 454.50,260.10 C453.77,259.55 453.08,259.77 452.60,257.90 C452.12,256.03 451.18,251.50 451.60,248.90 C452.02,246.30 454.20,243.85 455.10,242.30Z" stroke="#000" stroke-width="1.5" fill="#fff" />
<path d="M453.40,242.10 C454.30,240.55 454.47,239.97 455.30,239.40 C456.13,238.83 457.47,238.55 458.40,238.70 C459.33,238.85 460.28,239.53 460.90,240.30 C461.52,241.07 461.78,242.32 462.10,243.30 C462.42,244.28 462.68,244.70 462.80,246.20 C462.92,247.70 462.92,250.80 462.80,252.30 C462.68,253.80 462.48,254.23 462.10,255.20 C461.72,256.17 461.12,257.22 460.50,258.10 C459.88,258.98 459.27,260.02 458.40,260.50 C457.53,260.98 456.23,261.10 455.30,261.00 C454.37,260.90 453.53,260.45 452.80,259.90 C452.07,259.35 451.38,259.57 450.90,257.70 C450.42,255.83 449.48,251.30 449.90,248.70 C450.32,246.10 452.50,243.65 453.40,242.10Z" stroke="#000" stroke-width="0.9" fill="#fff" />
<path d="M445.60,247.00 L448.80,241.60 L456.90,240.50 L460.40,246.70 L458.70,254.50 L451.80,257.80 L446.30,253.50Z" stroke="#000" stroke-width="1.6" fill="#fff" stroke-linejoin="round"/>
<line x1="445.60" y1="247.00" x2="460.10" y2="248.40" stroke="#000" stroke-width="0.8" />
<line x1="454.20" y1="240.90" x2="453.60" y2="256.90" stroke="#000" stroke-width="0.8" />
<line x1="447.10" y1="253.90" x2="453.80" y2="248.10" stroke="#000" stroke-width="0.8" />
<line x1="456.90" y1="240.50" x2="455.10" y2="247.90" stroke="#000" stroke-width="0.7" />
<line x1="442.80" y1="246.70" x2="445.60" y2="247.00" stroke="#000" stroke-width="0.8" />
<path d="M508.50,248.00 L613.00,270.50 Q615.20,274.75 611.75,278.00 L507.50,256.75" stroke="#000" stroke-width="1.9" fill="#fff" stroke-linejoin="round"/>
<line x1="508.10" y1="251.50" x2="611.50" y2="273.50" stroke="#000" stroke-width="0.7" />
<line x1="507.85" y1="253.69" x2="611.19" y2="275.38" stroke="#000" stroke-width="0.7" />
<path d="M500.50,243.90 C501.40,242.35 501.57,241.77 502.40,241.20 C503.23,240.63 504.57,240.35 505.50,240.50 C506.43,240.65 507.38,241.33 508.00,242.10 C508.62,242.87 508.88,244.12 509.20,245.10 C509.52,246.08 509.78,246.50 509.90,248.00 C510.02,249.50 510.02,252.60 509.90,254.10 C509.78,255.60 509.58,256.03 509.20,257.00 C508.82,257.97 508.22,259.02 507.60,259.90 C506.98,260.78 506.37,261.82 505.50,262.30 C504.63,262.78 503.33,262.90 502.40,262.80 C501.47,262.70 500.63,262.25 499.90,261.70 C499.17,261.15 498.48,261.37 498.00,259.50 C497.52,257.63 496.58,253.10 497.00,250.50 C497.42,247.90 499.60,245.45 500.50,243.90Z" stroke="#000" stroke-width="1.5" fill="#fff" />
<path d="M498.80,243.70 C499.70,242.15 499.87,241.57 500.70,241.00 C501.53,240.43 502.87,240.15 503.80,240.30 C504.73,240.45 505.68,241.13 506.30,241.90 C506.92,242.67 507.18,243.92 507.50,244.90 C507.82,245.88 508.08,246.30 508.20,247.80 C508.32,249.30 508.32,252.40 508.20,253.90 C508.08,255.40 507.88,255.83 507.50,256.80 C507.12,257.77 506.52,258.82 505.90,259.70 C505.28,260.58 504.67,261.62 503.80,262.10 C502.93,262.58 501.63,262.70 500.70,262.60 C499.77,262.50 498.93,262.05 498.20,261.50 C497.47,260.95 496.78,261.17 496.30,259.30 C495.82,257.43 494.88,252.90 495.30,250.30 C495.72,247.70 497.90,245.25 498.80,243.70Z" stroke="#000" stroke-width="0.9" fill="#fff" />
<path d="M491.00,248.60 L494.20,243.20 L502.30,242.10 L505.80,248.30 L504.10,256.10 L497.20,259.40 L491.70,255.10Z" stroke="#000" stroke-width="1.6" fill="#fff" stroke-linejoin="round"/>
<line x1="491.00" y1="248.60" x2="505.50" y2="250.00" stroke="#000" stroke-width="0.8" />
<line x1="499.60" y1="242.50" x2="499.00" y2="258.50" stroke="#000" stroke-width="0.8" />
<line x1="492.50" y1="255.50" x2="499.20" y2="249.70" stroke="#000" stroke-width="0.8" />
<line x1="502.30" y1="242.10" x2="500.50" y2="249.50" stroke="#000" stroke-width="0.7" />
<line x1="488.20" y1="248.30" x2="491.00" y2="248.60" stroke="#000" stroke-width="0.8" />
<path d="M488.75,166.25 L636.25,196.25 Q638.45,201.12 633.75,205.00 L487.50,175.00" stroke="#000" stroke-width="1.9" fill="#fff" stroke-linejoin="round"/>
<line x1="488.25" y1="169.75" x2="634.25" y2="199.75" stroke="#000" stroke-width="0.7" />
<line x1="487.94" y1="171.94" x2="633.62" y2="201.94" stroke="#000" stroke-width="0.7" />
<path d="M479.90,162.30 C480.80,160.75 480.97,160.17 481.80,159.60 C482.63,159.03 483.97,158.75 484.90,158.90 C485.83,159.05 486.78,159.73 487.40,160.50 C488.02,161.27 488.28,162.52 488.60,163.50 C488.92,164.48 489.18,164.90 489.30,166.40 C489.42,167.90 489.42,171.00 489.30,172.50 C489.18,174.00 488.98,174.43 488.60,175.40 C488.22,176.37 487.62,177.42 487.00,178.30 C486.38,179.18 485.77,180.22 484.90,180.70 C484.03,181.18 482.73,181.30 481.80,181.20 C480.87,181.10 480.03,180.65 479.30,180.10 C478.57,179.55 477.88,179.77 477.40,177.90 C476.92,176.03 475.98,171.50 476.40,168.90 C476.82,166.30 479.00,163.85 479.90,162.30Z" stroke="#000" stroke-width="1.5" fill="#fff" />
<path d="M478.20,162.10 C479.10,160.55 479.27,159.97 480.10,159.40 C480.93,158.83 482.27,158.55 483.20,158.70 C484.13,158.85 485.08,159.53 485.70,160.30 C486.32,161.07 486.58,162.32 486.90,163.30 C487.22,164.28 487.48,164.70 487.60,166.20 C487.72,167.70 487.72,170.80 487.60,172.30 C487.48,173.80 487.28,174.23 486.90,175.20 C486.52,176.17 485.92,177.22 485.30,178.10 C484.68,178.98 484.07,180.02 483.20,180.50 C482.33,180.98 481.03,181.10 480.10,181.00 C479.17,180.90 478.33,180.45 477.60,179.90 C476.87,179.35 476.18,179.57 475.70,177.70 C475.22,175.83 474.28,171.30 474.70,168.70 C475.12,166.10 477.30,163.65 478.20,162.10Z" stroke="#000" stroke-width="0.9" fill="#fff" />
<path d="M470.40,167.00 L473.60,161.60 L481.70,160.50 L485.20,166.70 L483.50,174.50 L476.60,177.80 L471.10,173.50Z" stroke="#000" stroke-width="1.6" fill="#fff" stroke-linejoin="round"/>
<line x1="470.40" y1="167.00" x2="484.90" y2="168.40" stroke="#000" stroke-width="0.8" />
<line x1="479.00" y1="160.90" x2="478.40" y2="176.90" stroke="#000" stroke-width="0.8" />
<line x1="471.90" y1="173.90" x2="478.60" y2="168.10" stroke="#000" stroke-width="0.8" />
<line x1="481.70" y1="160.50" x2="479.90" y2="167.90" stroke="#000" stroke-width="0.7" />
<line x1="467.60" y1="166.70" x2="470.40" y2="167.00" stroke="#000" stroke-width="0.8" />
<path d="M533.75,157.50 L694.25,189.25 Q696.45,194.38 693.00,198.50 L532.50,166.25" stroke="#000" stroke-width="1.9" fill="#fff" stroke-linejoin="round"/>
<line x1="533.25" y1="161.00" x2="692.75" y2="192.95" stroke="#000" stroke-width="0.7" />
<line x1="532.94" y1="163.19" x2="692.44" y2="195.26" stroke="#000" stroke-width="0.7" />
<path d="M524.30,153.50 C525.20,151.95 525.37,151.37 526.20,150.80 C527.03,150.23 528.37,149.95 529.30,150.10 C530.23,150.25 531.18,150.93 531.80,151.70 C532.42,152.47 532.68,153.72 533.00,154.70 C533.32,155.68 533.58,156.10 533.70,157.60 C533.82,159.10 533.82,162.20 533.70,163.70 C533.58,165.20 533.38,165.63 533.00,166.60 C532.62,167.57 532.02,168.62 531.40,169.50 C530.78,170.38 530.17,171.42 529.30,171.90 C528.43,172.38 527.13,172.50 526.20,172.40 C525.27,172.30 524.43,171.85 523.70,171.30 C522.97,170.75 522.28,170.97 521.80,169.10 C521.32,167.23 520.38,162.70 520.80,160.10 C521.22,157.50 523.40,155.05 524.30,153.50Z" stroke="#000" stroke-width="1.5" fill="#fff" />
<path d="M522.60,153.30 C523.50,151.75 523.67,151.17 524.50,150.60 C525.33,150.03 526.67,149.75 527.60,149.90 C528.53,150.05 529.48,150.73 530.10,151.50 C530.72,152.27 530.98,153.52 531.30,154.50 C531.62,155.48 531.88,155.90 532.00,157.40 C532.12,158.90 532.12,162.00 532.00,163.50 C531.88,165.00 531.68,165.43 531.30,166.40 C530.92,167.37 530.32,168.42 529.70,169.30 C529.08,170.18 528.47,171.22 527.60,171.70 C526.73,172.18 525.43,172.30 524.50,172.20 C523.57,172.10 522.73,171.65 522.00,171.10 C521.27,170.55 520.58,170.77 520.10,168.90 C519.62,167.03 518.68,162.50 519.10,159.90 C519.52,157.30 521.70,154.85 522.60,153.30Z" stroke="#000" stroke-width="0.9" fill="#fff" />
<path d="M514.80,158.20 L518.00,152.80 L526.10,151.70 L529.60,157.90 L527.90,165.70 L521.00,169.00 L515.50,164.70Z" stroke="#000" stroke-width="1.6" fill="#fff" stroke-linejoin="round"/>
<line x1="514.80" y1="158.20" x2="529.30" y2="159.60" stroke="#000" stroke-width="0.8" />
<line x1="523.40" y1="152.10" x2="522.80" y2="168.10" stroke="#000" stroke-width="0.8" />
<line x1="516.30" y1="165.10" x2="523.00" y2="159.30" stroke="#000" stroke-width="0.8" />
<line x1="526.10" y1="151.70" x2="524.30" y2="159.10" stroke="#000" stroke-width="0.7" />
<line x1="512.00" y1="157.90" x2="514.80" y2="158.20" stroke="#000" stroke-width="0.8" />
<ellipse cx="104.30" cy="136.40" rx="7.30" ry="11.00" stroke="#000" stroke-width="1.1" fill="#fff"  />
<ellipse cx="103.10" cy="136.00" rx="6.40" ry="10.20" stroke="#000" stroke-width="0.9" fill="#fff"  />
<ellipse cx="103.00" cy="136.30" rx="3.10" ry="5.20" stroke="#000" stroke-width="1.0" fill="#fff"  />
<ellipse cx="103.60" cy="136.50" rx="1.60" ry="3.60" stroke="#000" stroke-width="0.8" fill="none"  />
<ellipse cx="720.50" cy="217.40" rx="7.20" ry="11.20" stroke="#000" stroke-width="1.1" fill="#fff"  />
<ellipse cx="719.30" cy="217.00" rx="6.30" ry="10.40" stroke="#000" stroke-width="0.9" fill="#fff"  />
<ellipse cx="719.20" cy="217.30" rx="3.10" ry="5.20" stroke="#000" stroke-width="1.0" fill="#fff"  />
<ellipse cx="719.80" cy="217.50" rx="1.60" ry="3.60" stroke="#000" stroke-width="0.8" fill="none"  />
<ellipse cx="763.70" cy="208.60" rx="7.20" ry="11.20" stroke="#000" stroke-width="1.1" fill="#fff"  />
<ellipse cx="762.50" cy="208.20" rx="6.30" ry="10.40" stroke="#000" stroke-width="0.9" fill="#fff"  />
<ellipse cx="762.40" cy="208.50" rx="3.10" ry="5.20" stroke="#000" stroke-width="1.0" fill="#fff"  />
<ellipse cx="763.00" cy="208.70" rx="1.60" ry="3.60" stroke="#000" stroke-width="0.8" fill="none"  />
<path d="M350.25,258 L366.5,261.25 Q371.5,268 366.5,274.6 L350.25,272" stroke="#000" stroke-width="1.1" fill="#fff" />
<ellipse cx="350.25" cy="265.00" rx="4.30" ry="7.00" stroke="#000" stroke-width="1.1" fill="#fff"  />
<ellipse cx="351.00" cy="265.20" rx="2.80" ry="5.60" stroke="#000" stroke-width="0.8" fill="none"  />
<line x1="353.00" y1="266.00" x2="367.50" y2="268.80" stroke="#000" stroke-width="0.7" />
<path d="M858.48,426.50 L857.30,461.90 Q862.95,464.90 868.60,461.90 L869.78,426.50 Z" stroke="#000" stroke-width="1.0" fill="#fff" />
<path d="M858.45,427.56 L857.92,443.37 Q863.57,446.37 869.22,443.37 L869.75,427.56 Z" stroke="#000" stroke-width="1.0" fill="#000" />
<path d="M857.58,453.48 L857.30,461.90 Q862.95,464.90 868.60,461.90 L868.88,453.48 Z" stroke="#000" stroke-width="1.0" fill="#000" />
<ellipse cx="864.20" cy="427.10" rx="5.35" ry="2.80" stroke="#000" stroke-width="1.1" fill="#fff"  />
<line x1="864.20" y1="426.00" x2="864.20" y2="429.50" stroke="#000" stroke-width="0.8" />
<path d="M836.68,464.60 L835.50,500.00 Q841.15,503.00 846.80,500.00 L847.98,464.60 Z" stroke="#000" stroke-width="1.0" fill="#fff" />
<path d="M836.65,465.66 L836.12,481.47 Q841.77,484.47 847.42,481.47 L847.95,465.66 Z" stroke="#000" stroke-width="1.0" fill="#000" />
<path d="M835.78,491.58 L835.50,500.00 Q841.15,503.00 846.80,500.00 L847.08,491.58 Z" stroke="#000" stroke-width="1.0" fill="#000" />
<ellipse cx="842.40" cy="465.20" rx="5.35" ry="2.80" stroke="#000" stroke-width="1.1" fill="#fff"  />
<line x1="842.40" y1="464.10" x2="842.40" y2="467.60" stroke="#000" stroke-width="0.8" />
<g transform="translate(731.9,66.9) rotate(40.46)">
<rect x="14.30" y="-2.60" width="13.70" height="5.20" stroke="#000" stroke-width="1.1" fill="#fff"/>
<ellipse cx="14.6" cy="0" rx="1.6" ry="2.6" stroke="#000" stroke-width="1" fill="#fff"/>
<path d="M24,-3.2 L28.5,-7.5 L30,-7.5 L30,7.5 L28.5,7.5 L24,3.2 Z" stroke="#000" stroke-width="1" fill="#fff"/>
<path d="M29.50,-6.00 L31.70,-8.30 L33.91,-6.20 L34.40,-6.00 L36.60,-8.30 L38.81,-6.20 L39.30,-6.00 L41.50,-8.30 L43.71,-6.20 L44.20,-6.00 L46.41,-8.30 L48.61,-6.20 L49.10,-6.00 L51.30,-8.30 L53.51,-6.20 L54.00,-7.50 L54.00,7.50 L53.51,6.20 L51.30,8.30 L49.10,6.00 L48.61,6.20 L46.41,8.30 L44.20,6.00 L43.71,6.20 L41.50,8.30 L39.30,6.00 L38.81,6.20 L36.60,8.30 L34.40,6.00 L33.91,6.20 L31.70,8.30 L29.50,6.00Z" stroke="#000" stroke-width="1.1" fill="#fff"/>
<path d="M29.99,-6.5 Q33.17,0 29.99,6.5" stroke="#000" stroke-width="2.3" fill="none"/>
<path d="M32.20,-8 Q35.13,0 32.20,8" stroke="#000" stroke-width="1.3" fill="none"/>
<path d="M34.89,-6.5 Q38.07,0 34.89,6.5" stroke="#000" stroke-width="2.3" fill="none"/>
<path d="M37.09,-8 Q40.03,0 37.09,8" stroke="#000" stroke-width="1.3" fill="none"/>
<path d="M39.79,-6.5 Q42.97,0 39.79,6.5" stroke="#000" stroke-width="2.3" fill="none"/>
<path d="M41.99,-8 Q44.93,0 41.99,8" stroke="#000" stroke-width="1.3" fill="none"/>
<path d="M44.69,-6.5 Q47.88,0 44.69,6.5" stroke="#000" stroke-width="2.3" fill="none"/>
<path d="M46.90,-8 Q49.84,0 46.90,8" stroke="#000" stroke-width="1.3" fill="none"/>
<path d="M49.59,-6.5 Q52.77,0 49.59,6.5" stroke="#000" stroke-width="2.3" fill="none"/>
<path d="M51.80,-8 Q54.73,0 51.80,8" stroke="#000" stroke-width="1.3" fill="none"/>
<line x1="31.00" y1="-3.50" x2="31.90" y2="-3.50" stroke="#000" stroke-width="0.9"/>
<line x1="31.50" y1="1.50" x2="32.40" y2="1.50" stroke="#000" stroke-width="0.9"/>
<line x1="32.60" y1="-1.30" x2="33.50" y2="-1.30" stroke="#000" stroke-width="0.9"/>
<line x1="33.10" y1="3.50" x2="34.00" y2="3.50" stroke="#000" stroke-width="0.9"/>
<line x1="34.20" y1="0.90" x2="35.10" y2="0.90" stroke="#000" stroke-width="0.9"/>
<line x1="34.70" y1="1.50" x2="35.60" y2="1.50" stroke="#000" stroke-width="0.9"/>
<line x1="35.80" y1="-3.50" x2="36.70" y2="-3.50" stroke="#000" stroke-width="0.9"/>
<line x1="36.30" y1="3.50" x2="37.20" y2="3.50" stroke="#000" stroke-width="0.9"/>
<line x1="37.40" y1="-1.30" x2="38.30" y2="-1.30" stroke="#000" stroke-width="0.9"/>
<line x1="37.90" y1="1.50" x2="38.80" y2="1.50" stroke="#000" stroke-width="0.9"/>
<line x1="39.00" y1="0.90" x2="39.90" y2="0.90" stroke="#000" stroke-width="0.9"/>
<line x1="39.50" y1="3.50" x2="40.40" y2="3.50" stroke="#000" stroke-width="0.9"/>
<line x1="40.60" y1="-3.50" x2="41.50" y2="-3.50" stroke="#000" stroke-width="0.9"/>
<line x1="41.10" y1="1.50" x2="42.00" y2="1.50" stroke="#000" stroke-width="0.9"/>
<line x1="42.20" y1="-1.30" x2="43.10" y2="-1.30" stroke="#000" stroke-width="0.9"/>
<line x1="42.70" y1="3.50" x2="43.60" y2="3.50" stroke="#000" stroke-width="0.9"/>
<line x1="43.80" y1="0.90" x2="44.70" y2="0.90" stroke="#000" stroke-width="0.9"/>
<line x1="44.30" y1="1.50" x2="45.20" y2="1.50" stroke="#000" stroke-width="0.9"/>
<line x1="45.40" y1="-3.50" x2="46.30" y2="-3.50" stroke="#000" stroke-width="0.9"/>
<line x1="45.90" y1="3.50" x2="46.80" y2="3.50" stroke="#000" stroke-width="0.9"/>
<line x1="47.00" y1="-1.30" x2="47.90" y2="-1.30" stroke="#000" stroke-width="0.9"/>
<line x1="47.50" y1="1.50" x2="48.40" y2="1.50" stroke="#000" stroke-width="0.9"/>
<line x1="48.60" y1="0.90" x2="49.50" y2="0.90" stroke="#000" stroke-width="0.9"/>
<line x1="49.10" y1="3.50" x2="50.00" y2="3.50" stroke="#000" stroke-width="0.9"/>
<line x1="50.20" y1="-3.50" x2="51.10" y2="-3.50" stroke="#000" stroke-width="0.9"/>
<line x1="50.70" y1="1.50" x2="51.60" y2="1.50" stroke="#000" stroke-width="0.9"/>
<line x1="51.80" y1="-1.30" x2="52.70" y2="-1.30" stroke="#000" stroke-width="0.9"/>
<line x1="52.30" y1="3.50" x2="53.20" y2="3.50" stroke="#000" stroke-width="0.9"/>
<line x1="54.00" y1="-7.80" x2="54.00" y2="7.80" stroke="#000" stroke-width="1.8"/>
<rect x="54.50" y="-7.40" width="20.50" height="14.80" stroke="#000" stroke-width="1.0" fill="#fff"/>
<line x1="54.50" y1="-0.50" x2="75.00" y2="-0.50" stroke="#000" stroke-width="0.8"/>
<path d="M73.5,-13 L84,-13.8 L85.5,-11 L85.5,12 L84,13.8 L73.5,13 Z" stroke="#000" stroke-width="1" fill="#fff"/>
<line x1="74.30" y1="-13.00" x2="74.30" y2="13.00" stroke="#000" stroke-width="2.6"/>
<line x1="77.20" y1="-13.20" x2="77.20" y2="13.20" stroke="#000" stroke-width="0.9"/>
<line x1="77.00" y1="-5.50" x2="85.00" y2="-5.50" stroke="#000" stroke-width="0.8"/>
<line x1="77.00" y1="4.50" x2="85.00" y2="4.50" stroke="#000" stroke-width="0.8"/>
<path d="M80.5,-13 L80.5,-5.5" stroke="#000" stroke-width="2.2"/>
<path d="M80.5,0 L80.5,3.5" stroke="#000" stroke-width="2.0"/>
<line x1="84.30" y1="-13.40" x2="84.30" y2="13.40" stroke="#000" stroke-width="1.0"/>
<rect x="85.50" y="-12.20" width="18.50" height="24.40" stroke="#000" stroke-width="1.0" fill="#fff"/>
<line x1="85.50" y1="-4.50" x2="104.00" y2="-4.50" stroke="#000" stroke-width="0.8"/>
<line x1="85.50" y1="3.50" x2="104.00" y2="3.50" stroke="#000" stroke-width="0.8"/>
<line x1="103.30" y1="-12.40" x2="103.30" y2="12.40" stroke="#000" stroke-width="2.4"/>
<rect x="104.50" y="-7.60" width="17.50" height="15.20" stroke="#000" stroke-width="1.0" fill="#fff"/>
<line x1="104.50" y1="-5.60" x2="122.00" y2="-5.60" stroke="#000" stroke-width="0.7"/>
<line x1="104.50" y1="5.40" x2="122.00" y2="5.40" stroke="#000" stroke-width="0.7"/>
<line x1="104.50" y1="-1.00" x2="122.00" y2="-1.00" stroke="#000" stroke-width="0.7"/>
<path d="M122,-7.6 L127,-5 L127,3 L122,7.6" stroke="#000" stroke-width="1" fill="#fff"/>
<path d="M122,1 L129.5,0 L122,4.5 Z" stroke="#000" stroke-width="1" fill="#000"/>
</g>
<text transform="translate(32.18,87.50) scale(0.5179,0.9808)" font-family="Liberation Serif" font-weight="normal" font-size="40" fill="#000" stroke="#000" stroke-width="0.9" stroke-linejoin="round">1</text>
<line x1="37.50" y1="87.50" x2="37.50" y2="111.00" stroke="#000" stroke-width="1.0" />
<text transform="translate(98.25,98.75) scale(0.6250,0.9135)" font-family="Liberation Serif" font-weight="normal" font-size="40" fill="#000" stroke="#000" stroke-width="0.9" stroke-linejoin="round">2</text>
<line x1="103.75" y1="99.50" x2="103.75" y2="127.00" stroke="#000" stroke-width="1.0" />
<text transform="translate(29.38,260.50) scale(0.5588,0.9615)" font-family="Liberation Serif" font-weight="normal" font-size="40" fill="#000" stroke="#000" stroke-width="0.9" stroke-linejoin="round">3</text>
<line x1="35.00" y1="203.00" x2="35.00" y2="235.00" stroke="#000" stroke-width="1.0" />
<text transform="translate(169.47,293.00) scale(0.5278,0.9615)" font-family="Liberation Serif" font-weight="normal" font-size="40" fill="#000" stroke="#000" stroke-width="0.9" stroke-linejoin="round">4</text>
<line x1="174.50" y1="241.25" x2="174.50" y2="267.50" stroke="#000" stroke-width="1.0" />
<text transform="translate(268.38,315.00) scale(0.5588,0.9615)" font-family="Liberation Serif" font-weight="normal" font-size="40" fill="#000" stroke="#000" stroke-width="0.9" stroke-linejoin="round">5</text>
<line x1="273.50" y1="262.50" x2="273.50" y2="285.75" stroke="#000" stroke-width="1.0" />
<text transform="translate(352.41,325.75) scale(0.5441,0.9423)" font-family="Liberation Serif" font-weight="normal" font-size="40" fill="#000" stroke="#000" stroke-width="0.9" stroke-linejoin="round">6</text>
<line x1="357.25" y1="273.75" x2="357.25" y2="297.50" stroke="#000" stroke-width="1.0" />
<text transform="translate(472.72,135.75) scale(0.5938,0.9423)" font-family="Liberation Serif" font-weight="normal" font-size="40" fill="#000" stroke="#000" stroke-width="0.9" stroke-linejoin="round">7</text>
<line x1="479.50" y1="136.25" x2="479.50" y2="160.00" stroke="#000" stroke-width="1.0" />
<text transform="translate(521.38,125.00) scale(0.5588,0.9615)" font-family="Liberation Serif" font-weight="normal" font-size="40" fill="#000" stroke="#000" stroke-width="0.9" stroke-linejoin="round">8</text>
<line x1="527.50" y1="125.00" x2="527.50" y2="151.25" stroke="#000" stroke-width="1.0" />
<text transform="translate(450.91,315.00) scale(0.5882,0.9615)" font-family="Liberation Serif" font-weight="normal" font-size="40" fill="#000" stroke="#000" stroke-width="0.9" stroke-linejoin="round">9</text>
<line x1="456.50" y1="251.00" x2="456.50" y2="282.50" stroke="#000" stroke-width="1.0" />
<text transform="translate(585.62,328.75) scale(0.6324,0.9615)" font-family="Liberation Serif" font-weight="normal" font-size="40" fill="#000" stroke="#000" stroke-width="0.9" stroke-linejoin="round">9</text>
<line x1="591.25" y1="275.00" x2="591.25" y2="298.00" stroke="#000" stroke-width="1.0" />
<text transform="translate(713.50,181.75) scale(0.5009,0.9615)" font-family="Liberation Serif" font-weight="normal" font-size="40" fill="#000" stroke="#000" stroke-width="0.9" stroke-linejoin="round">1</text>
<text transform="translate(725.59,181.75) scale(0.5875,0.9615)" font-family="Liberation Serif" font-weight="normal" font-size="40" fill="#000" stroke="#000" stroke-width="0.9" stroke-linejoin="round">0</text>
<line x1="720.30" y1="181.75" x2="720.30" y2="217.00" stroke="#000" stroke-width="1.0" />
<text transform="translate(757.53,172.40) scale(0.5186,0.9385)" font-family="Liberation Serif" font-weight="normal" font-size="40" fill="#000" stroke="#000" stroke-width="0.9" stroke-linejoin="round">1</text>
<text transform="translate(770.04,172.40) scale(0.6082,0.9385)" font-family="Liberation Serif" font-weight="normal" font-size="40" fill="#000" stroke="#000" stroke-width="0.9" stroke-linejoin="round">0</text>
<line x1="763.40" y1="172.40" x2="763.40" y2="208.00" stroke="#000" stroke-width="1.0" />
<text transform="translate(742.10,51.80) scale(0.6000,0.9346)" font-family="Liberation Serif" font-weight="normal" font-size="40" fill="#000" stroke="#000" stroke-width="0.9" stroke-linejoin="round">1</text>
<text transform="translate(753.70,51.80) scale(0.6000,0.9346)" font-family="Liberation Serif" font-weight="normal" font-size="40" fill="#000" stroke="#000" stroke-width="0.9" stroke-linejoin="round">1</text>
<line x1="748.60" y1="51.80" x2="748.60" y2="75.20" stroke="#000" stroke-width="1.0" />
<text transform="translate(939.10,170.50) scale(0.6004,0.9135)" font-family="Liberation Serif" font-weight="normal" font-size="40" fill="#000" stroke="#000" stroke-width="0.9" stroke-linejoin="round">1</text>
<text transform="translate(952.08,170.50) scale(0.5509,0.9135)" font-family="Liberation Serif" font-weight="normal" font-size="40" fill="#000" stroke="#000" stroke-width="0.9" stroke-linejoin="round">2</text>
<line x1="947.00" y1="170.50" x2="947.00" y2="194.25" stroke="#000" stroke-width="1.0" />
<text transform="translate(860.59,516.60) scale(0.5528,0.9423)" font-family="Liberation Serif" font-weight="normal" font-size="40" fill="#000" stroke="#000" stroke-width="0.9" stroke-linejoin="round">1</text>
<text transform="translate(873.91,516.60) scale(0.4729,0.9423)" font-family="Liberation Serif" font-weight="normal" font-size="40" fill="#000" stroke="#000" stroke-width="0.9" stroke-linejoin="round">3</text>
<line x1="864.40" y1="463.20" x2="864.40" y2="487.70" stroke="#000" stroke-width="1.0" />
<text transform="translate(831.47,553.00) scale(0.5582,0.9500)" font-family="Liberation Serif" font-weight="normal" font-size="40" fill="#000" stroke="#000" stroke-width="0.9" stroke-linejoin="round">1</text>
<text transform="translate(844.92,553.00) scale(0.4776,0.9500)" font-family="Liberation Serif" font-weight="normal" font-size="40" fill="#000" stroke="#000" stroke-width="0.9" stroke-linejoin="round">3</text>
<line x1="837.30" y1="501.50" x2="837.30" y2="524.50" stroke="#000" stroke-width="1.0" />
</svg></body></html>
